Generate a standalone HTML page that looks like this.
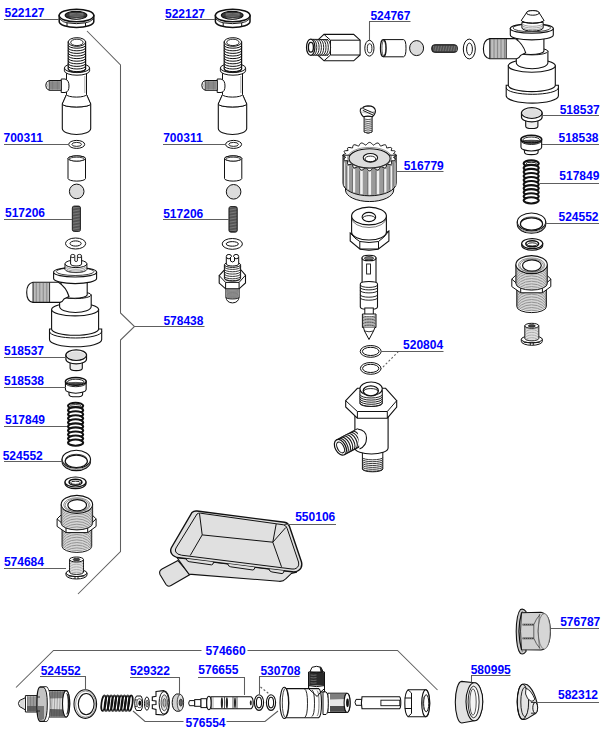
<!DOCTYPE html>
<html><head><meta charset="utf-8"><style>html,body{margin:0;padding:0;background:#fff;}svg{display:block;}text{font-family:"Liberation Sans",sans-serif;font-weight:bold;font-size:12px;fill:#0000ff;}</style></head><body>
<svg width="602" height="744" viewBox="0 0 602 744">
<rect width="602" height="744" fill="#fff"/>
<path d="M59.2,15.5 L59.2,21.5 A17.3,6 0 0 0 93.8,21.5 L93.8,15.5 Z" fill="#fff" stroke="#111" stroke-width="1.5" />
<ellipse cx="76.5" cy="15.5" rx="17.3" ry="6.3" fill="#fff" stroke="#111" stroke-width="1.5" />
<path d="M67,22.8 L67,27 M85.5,22.8 L85.5,27 M67,22.8 Q76.5,24.5 85.5,22.8" fill="none" stroke="#111" stroke-width="1.0" />
<path d="M59.7,19 Q63.5,22.5 67,22.8 M93.3,19 Q89.5,22.5 85.5,22.8" fill="none" stroke="#111" stroke-width="0.9" />
<ellipse cx="76" cy="15.3" rx="10.8" ry="3.9" fill="#3a3a3a" stroke="#111" stroke-width="1.2" />
<path d="M67.5,17 Q76.5,21 85.5,17 Q76.5,18.3 67.5,17 Z" fill="#fff" stroke="#111" stroke-width="0.6" />
<path d="M69.5,13.2 Q76.5,14.5 83.5,13.2" fill="none" stroke="#9a9a9a" stroke-width="0.6" />
<path d="M69.5,14.5 Q76.5,15.8 83.5,14.5" fill="none" stroke="#9a9a9a" stroke-width="0.6" />
<path d="M69.5,15.8 Q76.5,17.1 83.5,15.8" fill="none" stroke="#9a9a9a" stroke-width="0.6" />
<path d="M215.4,15.5 L215.4,21.5 A17.3,6 0 0 0 250,21.5 L250,15.5 Z" fill="#fff" stroke="#111" stroke-width="1.5" />
<ellipse cx="232.7" cy="15.5" rx="17.3" ry="6.3" fill="#fff" stroke="#111" stroke-width="1.5" />
<path d="M223.2,22.8 L223.2,27 M241.7,22.8 L241.7,27 M223.2,22.8 Q232.7,24.5 241.7,22.8" fill="none" stroke="#111" stroke-width="1.0" />
<path d="M215.9,19 Q219.7,22.5 223.2,22.8 M249.5,19 Q245.7,22.5 241.7,22.8" fill="none" stroke="#111" stroke-width="0.9" />
<ellipse cx="232.2" cy="15.3" rx="10.8" ry="3.9" fill="#3a3a3a" stroke="#111" stroke-width="1.2" />
<path d="M223.7,17 Q232.7,21 241.7,17 Q232.7,18.3 223.7,17 Z" fill="#fff" stroke="#111" stroke-width="0.6" />
<path d="M225.7,13.2 Q232.7,14.5 239.7,13.2" fill="none" stroke="#9a9a9a" stroke-width="0.6" />
<path d="M225.7,14.5 Q232.7,15.8 239.7,14.5" fill="none" stroke="#9a9a9a" stroke-width="0.6" />
<path d="M225.7,15.8 Q232.7,17.1 239.7,15.8" fill="none" stroke="#9a9a9a" stroke-width="0.6" />
<path d="M62.3,104 L62.3,128.5 A14.2,6 0 0 0 90.7,128.5 L90.7,104 Z" fill="#fff" stroke="#111" stroke-width="1.1" />
<path d="M62.3,104 A14.2,3 0 0 0 90.7,104" fill="none" stroke="#111" stroke-width="1.0" />
<path d="M66.5,94.5 L62.3,104 M86.5,94.5 L90.7,104" fill="none" stroke="#111" stroke-width="1.0" />
<path d="M66.5,94.5 L62.3,104 A14.2,3 0 0 0 90.7,104 L86.5,94.5 Z" fill="#fff" stroke="#111" stroke-width="1.0" />
<path d="M66.5,72 L66.5,94.5 A10,2.6 0 0 0 86.5,94.5 L86.5,72 Z" fill="#fff" stroke="#111" stroke-width="1.0" />
<line x1="84.8" y1="76" x2="84.8" y2="93" stroke="#555" stroke-width="0.5"/>
<path d="M64.4,68 L64.4,70.8 A12.6,4.4 0 0 0 89.6,70.8 L89.6,68 Z" fill="#fff" stroke="#111" stroke-width="1.0" />
<ellipse cx="77" cy="68" rx="12.6" ry="4.6" fill="#fff" stroke="#111" stroke-width="1.0" />
<path d="M68.2,42 L68.2,69 A8.7,3.2 0 0 0 85.6,69 L85.6,42 Z" fill="#fff" stroke="#111" stroke-width="1.2" />
<path d="M68.2,45.2 A8.7,3 0 0 0 85.6,45.2" fill="none" stroke="#111" stroke-width="1.0" />
<path d="M68.2,47.8 A8.7,3 0 0 0 85.6,47.8" fill="none" stroke="#111" stroke-width="1.0" />
<path d="M68.2,50.4 A8.7,3 0 0 0 85.6,50.4" fill="none" stroke="#111" stroke-width="1.0" />
<path d="M68.2,53 A8.7,3 0 0 0 85.6,53" fill="none" stroke="#111" stroke-width="1.0" />
<path d="M68.2,55.6 A8.7,3 0 0 0 85.6,55.6" fill="none" stroke="#111" stroke-width="1.0" />
<path d="M68.2,58.2 A8.7,3 0 0 0 85.6,58.2" fill="none" stroke="#111" stroke-width="1.0" />
<path d="M68.2,60.8 A8.7,3 0 0 0 85.6,60.8" fill="none" stroke="#111" stroke-width="1.0" />
<path d="M68.2,63.4 A8.7,3 0 0 0 85.6,63.4" fill="none" stroke="#111" stroke-width="1.0" />
<path d="M68.2,66 A8.7,3 0 0 0 85.6,66" fill="none" stroke="#111" stroke-width="1.0" />
<path d="M68.2,68.6 A8.7,3 0 0 0 85.6,68.6" fill="none" stroke="#111" stroke-width="1.0" />
<ellipse cx="76.9" cy="42" rx="8.7" ry="4.3" fill="#fff" stroke="#111" stroke-width="1.0" />
<ellipse cx="76.9" cy="42.4" rx="6.2" ry="3.2" fill="#fff" stroke="#111" stroke-width="0.9" />
<path d="M61.2,79 L65,79 Q69,80 69,86 Q69,92 65,92.5 L61.2,92.5 Z" fill="#fff" stroke="#111" stroke-width="1.0" />
<path d="M61.2,80.5 L49.2,80.5 L46.5,82.3 Q45,85.3 46.5,88.4 L49.2,90.3 L61.2,90.3 Z" fill="#fff" stroke="#111" stroke-width="1.0" />
<rect x="49.7" y="81.2" width="10.8" height="8.4" rx="0" fill="#a8a8a8" stroke="#111" stroke-width="0"/>
<line x1="50" y1="81" x2="50" y2="89.8" stroke="#555" stroke-width="0.5"/>
<line x1="51.25" y1="81" x2="51.25" y2="89.8" stroke="#555" stroke-width="0.5"/>
<line x1="52.5" y1="81" x2="52.5" y2="89.8" stroke="#555" stroke-width="0.5"/>
<line x1="53.75" y1="81" x2="53.75" y2="89.8" stroke="#555" stroke-width="0.5"/>
<line x1="55" y1="81" x2="55" y2="89.8" stroke="#555" stroke-width="0.5"/>
<line x1="56.25" y1="81" x2="56.25" y2="89.8" stroke="#555" stroke-width="0.5"/>
<line x1="57.5" y1="81" x2="57.5" y2="89.8" stroke="#555" stroke-width="0.5"/>
<line x1="58.75" y1="81" x2="58.75" y2="89.8" stroke="#555" stroke-width="0.5"/>
<line x1="60" y1="81" x2="60" y2="89.8" stroke="#555" stroke-width="0.5"/>
<line x1="49.2" y1="80.5" x2="49.2" y2="90.3" stroke="#111" stroke-width="0.8"/>
<path d="M46.5,82.3 Q48,85.3 46.5,88.4" fill="none" stroke="#555" stroke-width="0.6" />
<path d="M218.3,104 L218.3,128.5 A14.2,6 0 0 0 246.7,128.5 L246.7,104 Z" fill="#fff" stroke="#111" stroke-width="1.1" />
<path d="M218.3,104 A14.2,3 0 0 0 246.7,104" fill="none" stroke="#111" stroke-width="1.0" />
<path d="M222.5,94.5 L218.3,104 M242.5,94.5 L246.7,104" fill="none" stroke="#111" stroke-width="1.0" />
<path d="M222.5,94.5 L218.3,104 A14.2,3 0 0 0 246.7,104 L242.5,94.5 Z" fill="#fff" stroke="#111" stroke-width="1.0" />
<path d="M222.5,72 L222.5,94.5 A10,2.6 0 0 0 242.5,94.5 L242.5,72 Z" fill="#fff" stroke="#111" stroke-width="1.0" />
<line x1="240.8" y1="76" x2="240.8" y2="93" stroke="#555" stroke-width="0.5"/>
<path d="M220.4,68 L220.4,70.8 A12.6,4.4 0 0 0 245.6,70.8 L245.6,68 Z" fill="#fff" stroke="#111" stroke-width="1.0" />
<ellipse cx="233" cy="68" rx="12.6" ry="4.6" fill="#fff" stroke="#111" stroke-width="1.0" />
<path d="M224.2,42 L224.2,69 A8.7,3.2 0 0 0 241.6,69 L241.6,42 Z" fill="#fff" stroke="#111" stroke-width="1.2" />
<path d="M224.2,45.2 A8.7,3 0 0 0 241.6,45.2" fill="none" stroke="#111" stroke-width="1.0" />
<path d="M224.2,47.8 A8.7,3 0 0 0 241.6,47.8" fill="none" stroke="#111" stroke-width="1.0" />
<path d="M224.2,50.4 A8.7,3 0 0 0 241.6,50.4" fill="none" stroke="#111" stroke-width="1.0" />
<path d="M224.2,53 A8.7,3 0 0 0 241.6,53" fill="none" stroke="#111" stroke-width="1.0" />
<path d="M224.2,55.6 A8.7,3 0 0 0 241.6,55.6" fill="none" stroke="#111" stroke-width="1.0" />
<path d="M224.2,58.2 A8.7,3 0 0 0 241.6,58.2" fill="none" stroke="#111" stroke-width="1.0" />
<path d="M224.2,60.8 A8.7,3 0 0 0 241.6,60.8" fill="none" stroke="#111" stroke-width="1.0" />
<path d="M224.2,63.4 A8.7,3 0 0 0 241.6,63.4" fill="none" stroke="#111" stroke-width="1.0" />
<path d="M224.2,66 A8.7,3 0 0 0 241.6,66" fill="none" stroke="#111" stroke-width="1.0" />
<path d="M224.2,68.6 A8.7,3 0 0 0 241.6,68.6" fill="none" stroke="#111" stroke-width="1.0" />
<ellipse cx="232.9" cy="42" rx="8.7" ry="4.3" fill="#fff" stroke="#111" stroke-width="1.0" />
<ellipse cx="232.9" cy="42.4" rx="6.2" ry="3.2" fill="#fff" stroke="#111" stroke-width="0.9" />
<path d="M217.2,79 L221,79 Q225,80 225,86 Q225,92 221,92.5 L217.2,92.5 Z" fill="#fff" stroke="#111" stroke-width="1.0" />
<path d="M217.2,80.5 L205.2,80.5 L202.5,82.3 Q201,85.3 202.5,88.4 L205.2,90.3 L217.2,90.3 Z" fill="#fff" stroke="#111" stroke-width="1.0" />
<rect x="205.7" y="81.2" width="10.8" height="8.4" rx="0" fill="#a8a8a8" stroke="#111" stroke-width="0"/>
<line x1="206" y1="81" x2="206" y2="89.8" stroke="#555" stroke-width="0.5"/>
<line x1="207.25" y1="81" x2="207.25" y2="89.8" stroke="#555" stroke-width="0.5"/>
<line x1="208.5" y1="81" x2="208.5" y2="89.8" stroke="#555" stroke-width="0.5"/>
<line x1="209.75" y1="81" x2="209.75" y2="89.8" stroke="#555" stroke-width="0.5"/>
<line x1="211" y1="81" x2="211" y2="89.8" stroke="#555" stroke-width="0.5"/>
<line x1="212.25" y1="81" x2="212.25" y2="89.8" stroke="#555" stroke-width="0.5"/>
<line x1="213.5" y1="81" x2="213.5" y2="89.8" stroke="#555" stroke-width="0.5"/>
<line x1="214.75" y1="81" x2="214.75" y2="89.8" stroke="#555" stroke-width="0.5"/>
<line x1="216" y1="81" x2="216" y2="89.8" stroke="#555" stroke-width="0.5"/>
<line x1="205.2" y1="80.5" x2="205.2" y2="90.3" stroke="#111" stroke-width="0.8"/>
<path d="M202.5,82.3 Q204,85.3 202.5,88.4" fill="none" stroke="#555" stroke-width="0.6" />
<ellipse cx="76.7" cy="144.4" rx="8" ry="4" fill="#fff" stroke="#111" stroke-width="1.0" />
<ellipse cx="76.7" cy="144.4" rx="4.8" ry="2" fill="#fff" stroke="#111" stroke-width="0.9" />
<ellipse cx="233.6" cy="144.4" rx="8" ry="4" fill="#fff" stroke="#111" stroke-width="1.0" />
<ellipse cx="233.6" cy="144.4" rx="4.8" ry="2" fill="#fff" stroke="#111" stroke-width="0.9" />
<path d="M68,158.5 L68,178.5 A8.75,2.6 0 0 0 85.5,178.5 L85.5,158.5 A8.75,2.6 0 0 0 68,158.5 Z" fill="#fff" stroke="#111" stroke-width="1.0" />
<ellipse cx="76.75" cy="158.5" rx="8.75" ry="2.6" fill="#fff" stroke="#111" stroke-width="1.0" />
<ellipse cx="76.75" cy="159.1" rx="7.55" ry="1.9" fill="#fff" stroke="#111" stroke-width="0.8" />
<path d="M224.5,158.5 L224.5,178.5 A8.65,2.6 0 0 0 241.8,178.5 L241.8,158.5 A8.65,2.6 0 0 0 224.5,158.5 Z" fill="#fff" stroke="#111" stroke-width="1.0" />
<ellipse cx="233.15" cy="158.5" rx="8.65" ry="2.6" fill="#fff" stroke="#111" stroke-width="1.0" />
<ellipse cx="233.15" cy="159.1" rx="7.45" ry="1.9" fill="#fff" stroke="#111" stroke-width="0.8" />
<ellipse cx="76.7" cy="191.4" rx="7.3" ry="7.3" fill="#dcdcdc" stroke="#111" stroke-width="1.0" />
<ellipse cx="233.6" cy="191.8" rx="7.3" ry="7.3" fill="#dcdcdc" stroke="#111" stroke-width="1.0" />
<rect x="72.3" y="206" width="8.2" height="25.5" rx="2" fill="#333" stroke="#111" stroke-width="0.8"/>
<line x1="73" y1="207.2" x2="79.8" y2="207.8" stroke="#aaa" stroke-width="0.6"/>
<line x1="73" y1="208.7" x2="79.8" y2="209.3" stroke="#aaa" stroke-width="0.6"/>
<line x1="73" y1="210.2" x2="79.8" y2="210.8" stroke="#aaa" stroke-width="0.6"/>
<line x1="73" y1="211.7" x2="79.8" y2="212.3" stroke="#aaa" stroke-width="0.6"/>
<line x1="73" y1="213.2" x2="79.8" y2="213.8" stroke="#aaa" stroke-width="0.6"/>
<line x1="73" y1="214.7" x2="79.8" y2="215.3" stroke="#aaa" stroke-width="0.6"/>
<line x1="73" y1="216.2" x2="79.8" y2="216.8" stroke="#aaa" stroke-width="0.6"/>
<line x1="73" y1="217.7" x2="79.8" y2="218.3" stroke="#aaa" stroke-width="0.6"/>
<line x1="73" y1="219.2" x2="79.8" y2="219.8" stroke="#aaa" stroke-width="0.6"/>
<line x1="73" y1="220.7" x2="79.8" y2="221.3" stroke="#aaa" stroke-width="0.6"/>
<line x1="73" y1="222.2" x2="79.8" y2="222.8" stroke="#aaa" stroke-width="0.6"/>
<line x1="73" y1="223.7" x2="79.8" y2="224.3" stroke="#aaa" stroke-width="0.6"/>
<line x1="73" y1="225.2" x2="79.8" y2="225.8" stroke="#aaa" stroke-width="0.6"/>
<line x1="73" y1="226.7" x2="79.8" y2="227.3" stroke="#aaa" stroke-width="0.6"/>
<line x1="73" y1="228.2" x2="79.8" y2="228.8" stroke="#aaa" stroke-width="0.6"/>
<line x1="73" y1="229.7" x2="79.8" y2="230.3" stroke="#aaa" stroke-width="0.6"/>
<rect x="228.9" y="206.5" width="8.4" height="25.7" rx="2" fill="#333" stroke="#111" stroke-width="0.8"/>
<line x1="229.6" y1="207.7" x2="236.6" y2="208.3" stroke="#aaa" stroke-width="0.6"/>
<line x1="229.6" y1="209.2" x2="236.6" y2="209.8" stroke="#aaa" stroke-width="0.6"/>
<line x1="229.6" y1="210.7" x2="236.6" y2="211.3" stroke="#aaa" stroke-width="0.6"/>
<line x1="229.6" y1="212.2" x2="236.6" y2="212.8" stroke="#aaa" stroke-width="0.6"/>
<line x1="229.6" y1="213.7" x2="236.6" y2="214.3" stroke="#aaa" stroke-width="0.6"/>
<line x1="229.6" y1="215.2" x2="236.6" y2="215.8" stroke="#aaa" stroke-width="0.6"/>
<line x1="229.6" y1="216.7" x2="236.6" y2="217.3" stroke="#aaa" stroke-width="0.6"/>
<line x1="229.6" y1="218.2" x2="236.6" y2="218.8" stroke="#aaa" stroke-width="0.6"/>
<line x1="229.6" y1="219.7" x2="236.6" y2="220.3" stroke="#aaa" stroke-width="0.6"/>
<line x1="229.6" y1="221.2" x2="236.6" y2="221.8" stroke="#aaa" stroke-width="0.6"/>
<line x1="229.6" y1="222.7" x2="236.6" y2="223.3" stroke="#aaa" stroke-width="0.6"/>
<line x1="229.6" y1="224.2" x2="236.6" y2="224.8" stroke="#aaa" stroke-width="0.6"/>
<line x1="229.6" y1="225.7" x2="236.6" y2="226.3" stroke="#aaa" stroke-width="0.6"/>
<line x1="229.6" y1="227.2" x2="236.6" y2="227.8" stroke="#aaa" stroke-width="0.6"/>
<line x1="229.6" y1="228.7" x2="236.6" y2="229.3" stroke="#aaa" stroke-width="0.6"/>
<line x1="229.6" y1="230.2" x2="236.6" y2="230.8" stroke="#aaa" stroke-width="0.6"/>
<ellipse cx="75.6" cy="243.5" rx="10.1" ry="5.5" fill="#fff" stroke="#111" stroke-width="1.0" />
<ellipse cx="75.6" cy="243.5" rx="5.6" ry="2.6" fill="#fff" stroke="#111" stroke-width="1.0" />
<ellipse cx="232.3" cy="243.9" rx="10.1" ry="5.4" fill="#fff" stroke="#111" stroke-width="1.0" />
<ellipse cx="232.3" cy="243.9" rx="6.1" ry="2.3" fill="#fff" stroke="#111" stroke-width="1.0" />
<path d="M49.5,329 L49.5,339.5 A26.1,7.3 0 0 0 101.7,339.5 L101.7,329 Z" fill="#fff" stroke="#111" stroke-width="1.1" />
<path d="M49.5,331.5 A26.1,6.5 0 0 0 101.7,331.5" fill="none" stroke="#111" stroke-width="1.0" />
<path d="M51.6,309.5 L51.6,329 A23.5,6.3 0 0 0 98.6,329 L98.6,309.5 Z" fill="#fff" stroke="#111" stroke-width="1.1" />
<ellipse cx="75.1" cy="309.5" rx="23.5" ry="6.4" fill="#fff" stroke="#111" stroke-width="1.1" />
<path d="M59.6,295 L59.6,306.5 A15.8,6 0 0 0 91.2,306.5 L91.2,295 Z" fill="#fff" stroke="#111" stroke-width="1.1" />
<ellipse cx="75.4" cy="295" rx="15.8" ry="3.6" fill="#fff" stroke="#111" stroke-width="1.0" />
<path d="M61,280 L61,294.8 A13.1,3.4 0 0 0 87.2,294.8 L87.2,280 Z" fill="#fff" stroke="#111" stroke-width="1.1" />
<path d="M58.5,282.3 L33,282.3 Q26.7,283.5 26.7,292.4 Q26.7,301.3 33,302.4 L60,302.4 Q62.5,302 64,299 L69,296.5 Q66,287 58.5,282.3 Z" fill="#fff" stroke="#111" stroke-width="1.1" />
<line x1="33.8" y1="282.8" x2="33.8" y2="302" stroke="#3a3a3a" stroke-width="0.6"/>
<line x1="35.2" y1="282.8" x2="35.2" y2="302" stroke="#3a3a3a" stroke-width="0.6"/>
<line x1="36.6" y1="282.8" x2="36.6" y2="302" stroke="#3a3a3a" stroke-width="0.6"/>
<line x1="38" y1="282.8" x2="38" y2="302" stroke="#3a3a3a" stroke-width="0.6"/>
<line x1="39.4" y1="282.8" x2="39.4" y2="302" stroke="#3a3a3a" stroke-width="0.6"/>
<line x1="40.8" y1="282.8" x2="40.8" y2="302" stroke="#3a3a3a" stroke-width="0.6"/>
<line x1="42.2" y1="282.8" x2="42.2" y2="302" stroke="#3a3a3a" stroke-width="0.6"/>
<line x1="43.6" y1="282.8" x2="43.6" y2="302" stroke="#3a3a3a" stroke-width="0.6"/>
<line x1="45" y1="282.8" x2="45" y2="302" stroke="#3a3a3a" stroke-width="0.6"/>
<line x1="46.4" y1="282.8" x2="46.4" y2="302" stroke="#3a3a3a" stroke-width="0.6"/>
<line x1="47.8" y1="282.8" x2="47.8" y2="302" stroke="#3a3a3a" stroke-width="0.6"/>
<line x1="49.2" y1="282.8" x2="49.2" y2="302" stroke="#3a3a3a" stroke-width="0.6"/>
<line x1="33" y1="282.3" x2="33" y2="302.4" stroke="#111" stroke-width="0.9"/>
<line x1="49.6" y1="282.5" x2="49.6" y2="302.2" stroke="#111" stroke-width="0.8"/>
<path d="M53.6,272.2 L53.6,278.6 A21.5,5 0 0 0 96.6,278.6 L96.6,272.2 Z" fill="#fff" stroke="#111" stroke-width="1.1" />
<ellipse cx="75.1" cy="272.2" rx="21.5" ry="4.8" fill="#fff" stroke="#111" stroke-width="1.1" />
<ellipse cx="75.1" cy="271.6" rx="18.8" ry="3.9" fill="none" stroke="#111" stroke-width="0.8" />
<path d="M65,263.8 L65,269.5 A11,3.3 0 0 0 86.9,269.5 L86.9,263.8 Z" fill="#fff" stroke="#111" stroke-width="1.0" />
<path d="M66,266.5 A9.95,2.8 0 0 0 85.9,266.5" fill="none" stroke="#666" stroke-width="0.6" />
<path d="M66,268.2 A9.95,2.8 0 0 0 85.9,268.2" fill="none" stroke="#666" stroke-width="0.6" />
<path d="M66,269.9 A9.95,2.8 0 0 0 85.9,269.9" fill="none" stroke="#666" stroke-width="0.6" />
<ellipse cx="75.95" cy="263.8" rx="11" ry="3.8" fill="#fff" stroke="#111" stroke-width="1.0" />
<path d="M70.6,256.5 L70.6,264 A5.5,2 0 0 0 81.6,264 L81.6,256.5" fill="#fff" stroke="#111" stroke-width="1.0" />
<ellipse cx="72.8" cy="256" rx="2.2" ry="1.6" fill="#fff" stroke="#111" stroke-width="0.9" />
<ellipse cx="79.4" cy="256" rx="2.2" ry="1.6" fill="#fff" stroke="#111" stroke-width="0.9" />
<path d="M74.8,256.5 L74.8,261 Q76.1,262.3 77.4,261 L77.4,256.5" fill="#fff" stroke="#111" stroke-width="0.9" />
<path d="M506.2,85.3 L506.2,95.8 A26.1,7.3 0 0 0 558.4,95.8 L558.4,85.3 Z" fill="#fff" stroke="#111" stroke-width="1.1" />
<path d="M506.2,87.8 A26.1,6.5 0 0 0 558.4,87.8" fill="none" stroke="#111" stroke-width="1.0" />
<path d="M508.3,65.8 L508.3,85.3 A23.5,6.3 0 0 0 555.3,85.3 L555.3,65.8 Z" fill="#fff" stroke="#111" stroke-width="1.1" />
<ellipse cx="531.8" cy="65.8" rx="23.5" ry="6.4" fill="#fff" stroke="#111" stroke-width="1.1" />
<path d="M516.3,51.3 L516.3,62.8 A15.8,6 0 0 0 547.9,62.8 L547.9,51.3 Z" fill="#fff" stroke="#111" stroke-width="1.1" />
<ellipse cx="532.1" cy="51.3" rx="15.8" ry="3.6" fill="#fff" stroke="#111" stroke-width="1.0" />
<path d="M517.7,36.3 L517.7,51.1 A13.1,3.4 0 0 0 543.9,51.1 L543.9,36.3 Z" fill="#fff" stroke="#111" stroke-width="1.1" />
<path d="M515.2,38.6 L489.7,38.6 Q483.4,39.8 483.4,48.7 Q483.4,57.6 489.7,58.7 L516.7,58.7 Q519.2,58.3 520.7,55.3 L525.7,52.8 Q522.7,43.3 515.2,38.6 Z" fill="#fff" stroke="#111" stroke-width="1.1" />
<line x1="490.5" y1="39.1" x2="490.5" y2="58.3" stroke="#3a3a3a" stroke-width="0.6"/>
<line x1="491.9" y1="39.1" x2="491.9" y2="58.3" stroke="#3a3a3a" stroke-width="0.6"/>
<line x1="493.3" y1="39.1" x2="493.3" y2="58.3" stroke="#3a3a3a" stroke-width="0.6"/>
<line x1="494.7" y1="39.1" x2="494.7" y2="58.3" stroke="#3a3a3a" stroke-width="0.6"/>
<line x1="496.1" y1="39.1" x2="496.1" y2="58.3" stroke="#3a3a3a" stroke-width="0.6"/>
<line x1="497.5" y1="39.1" x2="497.5" y2="58.3" stroke="#3a3a3a" stroke-width="0.6"/>
<line x1="498.9" y1="39.1" x2="498.9" y2="58.3" stroke="#3a3a3a" stroke-width="0.6"/>
<line x1="500.3" y1="39.1" x2="500.3" y2="58.3" stroke="#3a3a3a" stroke-width="0.6"/>
<line x1="501.7" y1="39.1" x2="501.7" y2="58.3" stroke="#3a3a3a" stroke-width="0.6"/>
<line x1="503.1" y1="39.1" x2="503.1" y2="58.3" stroke="#3a3a3a" stroke-width="0.6"/>
<line x1="504.5" y1="39.1" x2="504.5" y2="58.3" stroke="#3a3a3a" stroke-width="0.6"/>
<line x1="505.9" y1="39.1" x2="505.9" y2="58.3" stroke="#3a3a3a" stroke-width="0.6"/>
<line x1="489.7" y1="38.6" x2="489.7" y2="58.7" stroke="#111" stroke-width="0.9"/>
<line x1="506.3" y1="38.8" x2="506.3" y2="58.5" stroke="#111" stroke-width="0.8"/>
<path d="M510.3,28.5 L510.3,34.9 A21.5,5 0 0 0 553.3,34.9 L553.3,28.5 Z" fill="#fff" stroke="#111" stroke-width="1.1" />
<ellipse cx="531.8" cy="28.5" rx="21.5" ry="4.8" fill="#fff" stroke="#111" stroke-width="1.1" />
<ellipse cx="531.8" cy="27.9" rx="18.8" ry="3.9" fill="none" stroke="#111" stroke-width="0.8" />
<path d="M521.9,22.3 L521.9,27.8 A10.65,3.3 0 0 0 543.2,27.8 L543.2,22.3 Z" fill="#fff" stroke="#111" stroke-width="1.0" />
<path d="M521.9,23.3 A10.65,3 0 0 0 543.2,23.3" fill="none" stroke="#666" stroke-width="0.6" />
<path d="M521.9,25 A10.65,3 0 0 0 543.2,25" fill="none" stroke="#666" stroke-width="0.6" />
<path d="M521.9,26.7 A10.65,3 0 0 0 543.2,26.7" fill="none" stroke="#666" stroke-width="0.6" />
<path d="M521.4,20.3 L526.4,12.9 A6.4,2.35 0 0 1 539.2,12.9 L543.9,20.3 A11.25,2.8 0 0 1 521.4,20.3 Z" fill="#fff" stroke="#111" stroke-width="1.0" />
<path d="M521.4,20.3 A11.25,3 0 0 0 543.9,20.3" fill="none" stroke="#111" stroke-width="1.0" />
<ellipse cx="532.8" cy="12.9" rx="6.4" ry="2.3" fill="#fff" stroke="#111" stroke-width="1.0" />
<path d="M70.1,362.1 L70.1,368.3 A6.1,2.3 0 0 0 82.3,368.3 L82.3,362.1 A6.1,2.3 0 0 0 70.1,362.1 Z" fill="#eee" stroke="#111" stroke-width="1.1" />
<path d="M65.9,355.1 L65.9,359.3 A10.3,4.6 0 0 0 86.5,359.3 L86.5,355.1 Z" fill="#fff" stroke="#111" stroke-width="1.2" />
<ellipse cx="76.2" cy="355.1" rx="10.3" ry="5.3" fill="#fff" stroke="#111" stroke-width="1.2" />
<ellipse cx="76.2" cy="355.4" rx="9" ry="4.2" fill="#dedede" stroke="#111" stroke-width="0" />
<path d="M525.7,120 L525.7,126.2 A6.1,2.3 0 0 0 537.9,126.2 L537.9,120 A6.1,2.3 0 0 0 525.7,120 Z" fill="#eee" stroke="#111" stroke-width="1.1" />
<path d="M521.5,113 L521.5,117.2 A10.3,4.6 0 0 0 542.1,117.2 L542.1,113 Z" fill="#fff" stroke="#111" stroke-width="1.2" />
<ellipse cx="531.8" cy="113" rx="10.3" ry="5.3" fill="#fff" stroke="#111" stroke-width="1.2" />
<ellipse cx="531.8" cy="113.3" rx="9" ry="4.2" fill="#dedede" stroke="#111" stroke-width="0" />
<path d="M69,389.4 L69,394.4 A6.8,2.4 0 0 0 82.6,394.4 L82.6,389.4 A6.8,2.4 0 0 0 69,389.4 Z" fill="#fff" stroke="#111" stroke-width="1.1" />
<path d="M65.45,381.4 L65.45,389.4 A10.35,3.8 0 0 0 86.15,389.4 L86.15,381.4 Z" fill="#fff" stroke="#111" stroke-width="1.1" />
<ellipse cx="75.8" cy="381.4" rx="10.35" ry="3.9" fill="#fff" stroke="#111" stroke-width="1.5" />
<ellipse cx="75.8" cy="382" rx="8.3" ry="2.8" fill="#fff" stroke="#111" stroke-width="0.9" />
<path d="M68.8,382.8 Q75.8,386 82.8,382.8 Q75.8,382 68.8,382.8 Z" fill="#555" stroke="#111" stroke-width="0.6" />
<path d="M65.45,382.9 A10.35,3.8 0 0 0 86.15,382.9" fill="none" stroke="#111" stroke-width="0.9" />
<path d="M524.5,147.2 L524.5,152.2 A6.8,2.4 0 0 0 538.1,152.2 L538.1,147.2 A6.8,2.4 0 0 0 524.5,147.2 Z" fill="#fff" stroke="#111" stroke-width="1.1" />
<path d="M520.95,139.2 L520.95,147.2 A10.35,3.8 0 0 0 541.65,147.2 L541.65,139.2 Z" fill="#fff" stroke="#111" stroke-width="1.1" />
<ellipse cx="531.3" cy="139.2" rx="10.35" ry="3.9" fill="#fff" stroke="#111" stroke-width="1.5" />
<ellipse cx="531.3" cy="139.8" rx="8.3" ry="2.8" fill="#fff" stroke="#111" stroke-width="0.9" />
<path d="M524.3,140.6 Q531.3,143.8 538.3,140.6 Q531.3,139.8 524.3,140.6 Z" fill="#555" stroke="#111" stroke-width="0.6" />
<path d="M520.95,140.7 A10.35,3.8 0 0 0 541.65,140.7" fill="none" stroke="#111" stroke-width="0.9" />
<ellipse cx="75.6" cy="405.8" rx="7.6" ry="3.1" fill="#fff" stroke="#111" stroke-width="2.1" />
<ellipse cx="75.6" cy="410.25" rx="7.6" ry="3.1" fill="#fff" stroke="#111" stroke-width="2.1" />
<ellipse cx="75.6" cy="414.3" rx="7.6" ry="3.1" fill="#fff" stroke="#111" stroke-width="2.1" />
<ellipse cx="75.6" cy="418.35" rx="7.6" ry="3.1" fill="#fff" stroke="#111" stroke-width="2.1" />
<ellipse cx="75.6" cy="422.4" rx="7.6" ry="3.1" fill="#fff" stroke="#111" stroke-width="2.1" />
<ellipse cx="75.6" cy="426.45" rx="7.6" ry="3.1" fill="#fff" stroke="#111" stroke-width="2.1" />
<ellipse cx="75.6" cy="430.5" rx="7.6" ry="3.1" fill="#fff" stroke="#111" stroke-width="2.1" />
<ellipse cx="75.6" cy="434.55" rx="7.6" ry="3.1" fill="#fff" stroke="#111" stroke-width="2.1" />
<ellipse cx="75.6" cy="438.6" rx="7.6" ry="3.1" fill="#fff" stroke="#111" stroke-width="2.1" />
<ellipse cx="75.6" cy="442.65" rx="7.6" ry="3.1" fill="#fff" stroke="#111" stroke-width="2.1" />
<ellipse cx="75.6" cy="405.9" rx="5.2" ry="1.3" fill="none" stroke="#111" stroke-width="0.9" />
<ellipse cx="531.2" cy="163.5" rx="7.6" ry="3.1" fill="#fff" stroke="#111" stroke-width="2.1" />
<ellipse cx="531.2" cy="167.95" rx="7.6" ry="3.1" fill="#fff" stroke="#111" stroke-width="2.1" />
<ellipse cx="531.2" cy="172" rx="7.6" ry="3.1" fill="#fff" stroke="#111" stroke-width="2.1" />
<ellipse cx="531.2" cy="176.05" rx="7.6" ry="3.1" fill="#fff" stroke="#111" stroke-width="2.1" />
<ellipse cx="531.2" cy="180.1" rx="7.6" ry="3.1" fill="#fff" stroke="#111" stroke-width="2.1" />
<ellipse cx="531.2" cy="184.15" rx="7.6" ry="3.1" fill="#fff" stroke="#111" stroke-width="2.1" />
<ellipse cx="531.2" cy="188.2" rx="7.6" ry="3.1" fill="#fff" stroke="#111" stroke-width="2.1" />
<ellipse cx="531.2" cy="192.25" rx="7.6" ry="3.1" fill="#fff" stroke="#111" stroke-width="2.1" />
<ellipse cx="531.2" cy="196.3" rx="7.6" ry="3.1" fill="#fff" stroke="#111" stroke-width="2.1" />
<ellipse cx="531.2" cy="200.35" rx="7.6" ry="3.1" fill="#fff" stroke="#111" stroke-width="2.1" />
<ellipse cx="531.2" cy="163.6" rx="5.2" ry="1.3" fill="none" stroke="#111" stroke-width="0.9" />
<path d="M62.1,459.3 L62.1,461.6 A14.2,9 0 0 0 90.5,461.6 L90.5,459.3 Z" fill="#fff" stroke="#111" stroke-width="1.1" />
<ellipse cx="76.3" cy="459.3" rx="14.2" ry="9" fill="#fff" stroke="#111" stroke-width="1.1" />
<path d="M62.3,460.6 A14,9 0 0 0 90.3,460.6" fill="none" stroke="#555" stroke-width="0.6" />
<ellipse cx="76.3" cy="461.3" rx="11.1" ry="6.2" fill="#fff" stroke="#111" stroke-width="1.2" />
<path d="M65.7,459.3 A10.6,5 0 0 1 86.9,459.3" fill="none" stroke="#111" stroke-width="0.8" />
<path d="M517.3,222 L517.3,224.3 A14.2,9 0 0 0 545.7,224.3 L545.7,222 Z" fill="#fff" stroke="#111" stroke-width="1.1" />
<ellipse cx="531.5" cy="222" rx="14.2" ry="9" fill="#fff" stroke="#111" stroke-width="1.1" />
<path d="M517.5,223.3 A14,9 0 0 0 545.5,223.3" fill="none" stroke="#555" stroke-width="0.6" />
<ellipse cx="531.5" cy="224" rx="11.1" ry="6.2" fill="#fff" stroke="#111" stroke-width="1.2" />
<path d="M520.9,222 A10.6,5 0 0 1 542.1,222" fill="none" stroke="#111" stroke-width="0.8" />
<path d="M65,482 L65,483.6 A10.5,5 0 0 0 86,483.6 L86,482 Z" fill="#fff" stroke="#111" stroke-width="1.1" />
<ellipse cx="75.5" cy="482" rx="10.5" ry="5" fill="#fff" stroke="#111" stroke-width="1.1" />
<ellipse cx="75.5" cy="482.2" rx="6.4" ry="3" fill="#fff" stroke="#111" stroke-width="1.6" />
<ellipse cx="75.5" cy="482.8" rx="4.8" ry="1.6" fill="#fff" stroke="#111" stroke-width="0.9" />
<path d="M521.7,243.6 L521.7,245.2 A10.5,5 0 0 0 542.7,245.2 L542.7,243.6 Z" fill="#fff" stroke="#111" stroke-width="1.1" />
<ellipse cx="532.2" cy="243.6" rx="10.5" ry="5" fill="#fff" stroke="#111" stroke-width="1.1" />
<ellipse cx="532.2" cy="243.8" rx="6.4" ry="3" fill="#fff" stroke="#111" stroke-width="1.6" />
<ellipse cx="532.2" cy="244.4" rx="4.8" ry="1.6" fill="#fff" stroke="#111" stroke-width="0.9" />
<path d="M62.1,526.4 L62.1,546.4 A14.8,6 0 0 0 91.7,546.4 L91.7,526.4 Z" fill="#fff" stroke="#111" stroke-width="1.0" />
<path d="M62.1,526.9 A14.8,6 0 0 0 91.7,526.9" fill="none" stroke="#4a4a4a" stroke-width="0.6" />
<path d="M62.1,528.5 A14.8,6 0 0 0 91.7,528.5" fill="none" stroke="#4a4a4a" stroke-width="0.6" />
<path d="M62.1,530.1 A14.8,6 0 0 0 91.7,530.1" fill="none" stroke="#4a4a4a" stroke-width="0.6" />
<path d="M62.1,531.7 A14.8,6 0 0 0 91.7,531.7" fill="none" stroke="#4a4a4a" stroke-width="0.6" />
<path d="M62.1,533.3 A14.8,6 0 0 0 91.7,533.3" fill="none" stroke="#4a4a4a" stroke-width="0.6" />
<path d="M62.1,534.9 A14.8,6 0 0 0 91.7,534.9" fill="none" stroke="#4a4a4a" stroke-width="0.6" />
<path d="M62.1,536.5 A14.8,6 0 0 0 91.7,536.5" fill="none" stroke="#4a4a4a" stroke-width="0.6" />
<path d="M62.1,538.1 A14.8,6 0 0 0 91.7,538.1" fill="none" stroke="#4a4a4a" stroke-width="0.6" />
<path d="M62.1,539.7 A14.8,6 0 0 0 91.7,539.7" fill="none" stroke="#4a4a4a" stroke-width="0.6" />
<path d="M62.1,541.3 A14.8,6 0 0 0 91.7,541.3" fill="none" stroke="#4a4a4a" stroke-width="0.6" />
<path d="M62.1,542.9 A14.8,6 0 0 0 91.7,542.9" fill="none" stroke="#4a4a4a" stroke-width="0.6" />
<path d="M62.1,544.5 A14.8,6 0 0 0 91.7,544.5" fill="none" stroke="#4a4a4a" stroke-width="0.6" />
<path d="M57.1,518.9 L57.1,526.4 L66,532.6 L87.7,532.6 L96.1,526.4 L96.1,518.9 L87.7,526.9 L66,526.9 Z" fill="#fff" stroke="#111" stroke-width="1.0" />
<path d="M66,526.9 L66,532.6 M87.7,526.9 L87.7,532.6" fill="none" stroke="#111" stroke-width="1.0" />
<path d="M57.1,518.9 L61.1,514.9 M96.1,518.9 L92.1,514.9" fill="none" stroke="#111" stroke-width="1.0" />
<path d="M61.2,504.4 L61.2,523.4 A15.7,6.5 0 0 0 92.6,523.4 L92.6,504.4 Z" fill="#fff" stroke="#111" stroke-width="1.0" />
<path d="M61.2,505.4 A15.7,6.5 0 0 0 92.6,505.4" fill="none" stroke="#4a4a4a" stroke-width="0.6" />
<path d="M61.2,507 A15.7,6.5 0 0 0 92.6,507" fill="none" stroke="#4a4a4a" stroke-width="0.6" />
<path d="M61.2,508.6 A15.7,6.5 0 0 0 92.6,508.6" fill="none" stroke="#4a4a4a" stroke-width="0.6" />
<path d="M61.2,510.2 A15.7,6.5 0 0 0 92.6,510.2" fill="none" stroke="#4a4a4a" stroke-width="0.6" />
<path d="M61.2,511.8 A15.7,6.5 0 0 0 92.6,511.8" fill="none" stroke="#4a4a4a" stroke-width="0.6" />
<path d="M61.2,513.4 A15.7,6.5 0 0 0 92.6,513.4" fill="none" stroke="#4a4a4a" stroke-width="0.6" />
<path d="M61.2,515 A15.7,6.5 0 0 0 92.6,515" fill="none" stroke="#4a4a4a" stroke-width="0.6" />
<path d="M61.2,516.6 A15.7,6.5 0 0 0 92.6,516.6" fill="none" stroke="#4a4a4a" stroke-width="0.6" />
<path d="M61.2,518.2 A15.7,6.5 0 0 0 92.6,518.2" fill="none" stroke="#4a4a4a" stroke-width="0.6" />
<path d="M61.2,519.8 A15.7,6.5 0 0 0 92.6,519.8" fill="none" stroke="#4a4a4a" stroke-width="0.6" />
<path d="M61.2,521.4 A15.7,6.5 0 0 0 92.6,521.4" fill="none" stroke="#4a4a4a" stroke-width="0.6" />
<path d="M61.2,523 A15.7,6.5 0 0 0 92.6,523" fill="none" stroke="#4a4a4a" stroke-width="0.6" />
<ellipse cx="76.9" cy="504.4" rx="15.7" ry="9" fill="#fff" stroke="#111" stroke-width="1.1" />
<ellipse cx="76.9" cy="504.9" rx="13.2" ry="7.2" fill="none" stroke="#444" stroke-width="0.6" />
<ellipse cx="76.9" cy="505.2" rx="11.8" ry="6.5" fill="none" stroke="#444" stroke-width="0.6" />
<ellipse cx="77.2" cy="505.3" rx="9.4" ry="5.6" fill="#fff" stroke="#111" stroke-width="1.2" />
<path d="M516.8,286.6 L516.8,306.6 A14.8,6 0 0 0 546.4,306.6 L546.4,286.6 Z" fill="#fff" stroke="#111" stroke-width="1.0" />
<path d="M516.8,287.1 A14.8,6 0 0 0 546.4,287.1" fill="none" stroke="#4a4a4a" stroke-width="0.6" />
<path d="M516.8,288.7 A14.8,6 0 0 0 546.4,288.7" fill="none" stroke="#4a4a4a" stroke-width="0.6" />
<path d="M516.8,290.3 A14.8,6 0 0 0 546.4,290.3" fill="none" stroke="#4a4a4a" stroke-width="0.6" />
<path d="M516.8,291.9 A14.8,6 0 0 0 546.4,291.9" fill="none" stroke="#4a4a4a" stroke-width="0.6" />
<path d="M516.8,293.5 A14.8,6 0 0 0 546.4,293.5" fill="none" stroke="#4a4a4a" stroke-width="0.6" />
<path d="M516.8,295.1 A14.8,6 0 0 0 546.4,295.1" fill="none" stroke="#4a4a4a" stroke-width="0.6" />
<path d="M516.8,296.7 A14.8,6 0 0 0 546.4,296.7" fill="none" stroke="#4a4a4a" stroke-width="0.6" />
<path d="M516.8,298.3 A14.8,6 0 0 0 546.4,298.3" fill="none" stroke="#4a4a4a" stroke-width="0.6" />
<path d="M516.8,299.9 A14.8,6 0 0 0 546.4,299.9" fill="none" stroke="#4a4a4a" stroke-width="0.6" />
<path d="M516.8,301.5 A14.8,6 0 0 0 546.4,301.5" fill="none" stroke="#4a4a4a" stroke-width="0.6" />
<path d="M516.8,303.1 A14.8,6 0 0 0 546.4,303.1" fill="none" stroke="#4a4a4a" stroke-width="0.6" />
<path d="M516.8,304.7 A14.8,6 0 0 0 546.4,304.7" fill="none" stroke="#4a4a4a" stroke-width="0.6" />
<path d="M511.8,279.1 L511.8,286.6 L520.7,292.8 L542.4,292.8 L550.8,286.6 L550.8,279.1 L542.4,287.1 L520.7,287.1 Z" fill="#fff" stroke="#111" stroke-width="1.0" />
<path d="M520.7,287.1 L520.7,292.8 M542.4,287.1 L542.4,292.8" fill="none" stroke="#111" stroke-width="1.0" />
<path d="M511.8,279.1 L515.8,275.1 M550.8,279.1 L546.8,275.1" fill="none" stroke="#111" stroke-width="1.0" />
<path d="M515.9,264.6 L515.9,283.6 A15.7,6.5 0 0 0 547.3,283.6 L547.3,264.6 Z" fill="#fff" stroke="#111" stroke-width="1.0" />
<path d="M515.9,265.6 A15.7,6.5 0 0 0 547.3,265.6" fill="none" stroke="#4a4a4a" stroke-width="0.6" />
<path d="M515.9,267.2 A15.7,6.5 0 0 0 547.3,267.2" fill="none" stroke="#4a4a4a" stroke-width="0.6" />
<path d="M515.9,268.8 A15.7,6.5 0 0 0 547.3,268.8" fill="none" stroke="#4a4a4a" stroke-width="0.6" />
<path d="M515.9,270.4 A15.7,6.5 0 0 0 547.3,270.4" fill="none" stroke="#4a4a4a" stroke-width="0.6" />
<path d="M515.9,272 A15.7,6.5 0 0 0 547.3,272" fill="none" stroke="#4a4a4a" stroke-width="0.6" />
<path d="M515.9,273.6 A15.7,6.5 0 0 0 547.3,273.6" fill="none" stroke="#4a4a4a" stroke-width="0.6" />
<path d="M515.9,275.2 A15.7,6.5 0 0 0 547.3,275.2" fill="none" stroke="#4a4a4a" stroke-width="0.6" />
<path d="M515.9,276.8 A15.7,6.5 0 0 0 547.3,276.8" fill="none" stroke="#4a4a4a" stroke-width="0.6" />
<path d="M515.9,278.4 A15.7,6.5 0 0 0 547.3,278.4" fill="none" stroke="#4a4a4a" stroke-width="0.6" />
<path d="M515.9,280 A15.7,6.5 0 0 0 547.3,280" fill="none" stroke="#4a4a4a" stroke-width="0.6" />
<path d="M515.9,281.6 A15.7,6.5 0 0 0 547.3,281.6" fill="none" stroke="#4a4a4a" stroke-width="0.6" />
<path d="M515.9,283.2 A15.7,6.5 0 0 0 547.3,283.2" fill="none" stroke="#4a4a4a" stroke-width="0.6" />
<ellipse cx="531.6" cy="264.6" rx="15.7" ry="9" fill="#fff" stroke="#111" stroke-width="1.1" />
<ellipse cx="531.6" cy="265.1" rx="13.2" ry="7.2" fill="none" stroke="#444" stroke-width="0.6" />
<ellipse cx="531.6" cy="265.4" rx="11.8" ry="6.5" fill="none" stroke="#444" stroke-width="0.6" />
<ellipse cx="531.9" cy="265.5" rx="9.4" ry="5.6" fill="#fff" stroke="#111" stroke-width="1.2" />
<path d="M66,573 L66,575 A10.5,4 0 0 0 87,575 L87,573 Z" fill="#fff" stroke="#111" stroke-width="1.0" />
<ellipse cx="76.5" cy="573" rx="10.5" ry="3.5" fill="#fff" stroke="#111" stroke-width="1.0" />
<path d="M75,576.5 L75,578.8 M78,576.5 L78,578.8 M68.5,576 L75,576.5 L78,576.5 L84.5,576" fill="none" stroke="#111" stroke-width="0.9" />
<path d="M69.5,559.5 L69.5,572 A7,2.5 0 0 0 83.5,572 L83.5,559.5 Z" fill="#fff" stroke="#111" stroke-width="1.0" />
<path d="M69.5,560.8 A7,2.3 0 0 0 83.5,560.8" fill="none" stroke="#666" stroke-width="0.55" />
<path d="M69.5,562.4 A7,2.3 0 0 0 83.5,562.4" fill="none" stroke="#666" stroke-width="0.55" />
<path d="M69.5,564 A7,2.3 0 0 0 83.5,564" fill="none" stroke="#666" stroke-width="0.55" />
<path d="M69.5,565.6 A7,2.3 0 0 0 83.5,565.6" fill="none" stroke="#666" stroke-width="0.55" />
<path d="M69.5,567.2 A7,2.3 0 0 0 83.5,567.2" fill="none" stroke="#666" stroke-width="0.55" />
<path d="M69.5,568.8 A7,2.3 0 0 0 83.5,568.8" fill="none" stroke="#666" stroke-width="0.55" />
<path d="M69.5,570.4 A7,2.3 0 0 0 83.5,570.4" fill="none" stroke="#666" stroke-width="0.55" />
<path d="M69.5,572 A7,2.3 0 0 0 83.5,572" fill="none" stroke="#666" stroke-width="0.55" />
<ellipse cx="76.5" cy="559.5" rx="7" ry="2.5" fill="#fff" stroke="#111" stroke-width="1.0" />
<ellipse cx="76.5" cy="559.6" rx="3.5" ry="1.3" fill="#444" stroke="#111" stroke-width="0.6" />
<path d="M521.3,339.3 L521.3,341.3 A10.5,4 0 0 0 542.3,341.3 L542.3,339.3 Z" fill="#fff" stroke="#111" stroke-width="1.0" />
<ellipse cx="531.8" cy="339.3" rx="10.5" ry="3.5" fill="#fff" stroke="#111" stroke-width="1.0" />
<path d="M530.3,342.8 L530.3,345.1 M533.3,342.8 L533.3,345.1 M523.8,342.3 L530.3,342.8 L533.3,342.8 L539.8,342.3" fill="none" stroke="#111" stroke-width="0.9" />
<path d="M524.8,325.8 L524.8,338.3 A7,2.5 0 0 0 538.8,338.3 L538.8,325.8 Z" fill="#fff" stroke="#111" stroke-width="1.0" />
<path d="M524.8,327.1 A7,2.3 0 0 0 538.8,327.1" fill="none" stroke="#666" stroke-width="0.55" />
<path d="M524.8,328.7 A7,2.3 0 0 0 538.8,328.7" fill="none" stroke="#666" stroke-width="0.55" />
<path d="M524.8,330.3 A7,2.3 0 0 0 538.8,330.3" fill="none" stroke="#666" stroke-width="0.55" />
<path d="M524.8,331.9 A7,2.3 0 0 0 538.8,331.9" fill="none" stroke="#666" stroke-width="0.55" />
<path d="M524.8,333.5 A7,2.3 0 0 0 538.8,333.5" fill="none" stroke="#666" stroke-width="0.55" />
<path d="M524.8,335.1 A7,2.3 0 0 0 538.8,335.1" fill="none" stroke="#666" stroke-width="0.55" />
<path d="M524.8,336.7 A7,2.3 0 0 0 538.8,336.7" fill="none" stroke="#666" stroke-width="0.55" />
<path d="M524.8,338.3 A7,2.3 0 0 0 538.8,338.3" fill="none" stroke="#666" stroke-width="0.55" />
<ellipse cx="531.8" cy="325.8" rx="7" ry="2.5" fill="#fff" stroke="#111" stroke-width="1.0" />
<ellipse cx="531.8" cy="325.9" rx="3.5" ry="1.3" fill="#444" stroke="#111" stroke-width="0.6" />
<path d="M324,34.4 L353.7,34.4 L360.1,40.2 L360.1,55 L353.7,60.8 L324,60.8 L317.7,55 L317.7,40.2 Z" fill="#fff" stroke="#111" stroke-width="1.1" />
<path d="M330.5,40.2 L360.1,40.2 M330.5,55 L360.1,55 M324,34.4 L330.5,40.2 L330.5,55 L324,60.8" fill="none" stroke="#111" stroke-width="1.0" />
<path d="M310.7,39.2 L327.5,39.6 L327.5,55.2 L310.7,55.3 Z" fill="#fff" stroke="#111" stroke-width="0" />
<path d="M313.2,39.6 A3.6,7.8 0 0 1 313.2,55.2" fill="none" stroke="#222" stroke-width="1.0" />
<path d="M315.5,39.6 A3.6,7.8 0 0 1 315.5,55.2" fill="none" stroke="#222" stroke-width="1.0" />
<path d="M317.8,39.6 A3.6,7.8 0 0 1 317.8,55.2" fill="none" stroke="#222" stroke-width="1.0" />
<path d="M320.1,39.6 A3.6,7.8 0 0 1 320.1,55.2" fill="none" stroke="#222" stroke-width="1.0" />
<path d="M322.4,39.6 A3.6,7.8 0 0 1 322.4,55.2" fill="none" stroke="#222" stroke-width="1.0" />
<path d="M324.7,39.6 A3.6,7.8 0 0 1 324.7,55.2" fill="none" stroke="#222" stroke-width="1.0" />
<path d="M327,39.6 A3.6,7.8 0 0 1 327,55.2" fill="none" stroke="#222" stroke-width="1.0" />
<line x1="311" y1="39.3" x2="328" y2="39.6" stroke="#111" stroke-width="0.9"/>
<line x1="311" y1="55.2" x2="328" y2="55.2" stroke="#111" stroke-width="0.9"/>
<ellipse cx="310.7" cy="47.2" rx="4.2" ry="8.1" fill="#fff" stroke="#111" stroke-width="1.2" />
<ellipse cx="310.9" cy="47.2" rx="2.5" ry="4.9" fill="#fff" stroke="#111" stroke-width="1.3" />
<ellipse cx="369.4" cy="48.2" rx="4.6" ry="7.9" fill="#fff" stroke="#111" stroke-width="1.0" />
<ellipse cx="369.6" cy="48.3" rx="2.3" ry="4.6" fill="#fff" stroke="#111" stroke-width="0.9" />
<path d="M383.3,39.6 L403.5,39.6 Q406,40 406,48.2 Q406,56.4 403.5,56.8 L383.3,56.8 Z" fill="#fff" stroke="#111" stroke-width="1.0" />
<ellipse cx="383.3" cy="48.2" rx="2.9" ry="8.6" fill="#fff" stroke="#111" stroke-width="1.1" />
<ellipse cx="383.8" cy="48.2" rx="1.9" ry="7.6" fill="none" stroke="#111" stroke-width="0.7" />
<ellipse cx="416.6" cy="48.1" rx="7" ry="7.5" fill="#dcdcdc" stroke="#111" stroke-width="1.0" />
<rect x="431.6" y="44.6" width="25.9" height="7.9" rx="3.5" fill="#383838" stroke="#111" stroke-width="0.8"/>
<line x1="433.5" y1="45.8" x2="434.3" y2="51.2" stroke="#aaa" stroke-width="0.55"/>
<line x1="435.1" y1="45.8" x2="435.9" y2="51.2" stroke="#aaa" stroke-width="0.55"/>
<line x1="436.7" y1="45.8" x2="437.5" y2="51.2" stroke="#aaa" stroke-width="0.55"/>
<line x1="438.3" y1="45.8" x2="439.1" y2="51.2" stroke="#aaa" stroke-width="0.55"/>
<line x1="439.9" y1="45.8" x2="440.7" y2="51.2" stroke="#aaa" stroke-width="0.55"/>
<line x1="441.5" y1="45.8" x2="442.3" y2="51.2" stroke="#aaa" stroke-width="0.55"/>
<line x1="443.1" y1="45.8" x2="443.9" y2="51.2" stroke="#aaa" stroke-width="0.55"/>
<line x1="444.7" y1="45.8" x2="445.5" y2="51.2" stroke="#aaa" stroke-width="0.55"/>
<line x1="446.3" y1="45.8" x2="447.1" y2="51.2" stroke="#aaa" stroke-width="0.55"/>
<line x1="447.9" y1="45.8" x2="448.7" y2="51.2" stroke="#aaa" stroke-width="0.55"/>
<line x1="449.5" y1="45.8" x2="450.3" y2="51.2" stroke="#aaa" stroke-width="0.55"/>
<line x1="451.1" y1="45.8" x2="451.9" y2="51.2" stroke="#aaa" stroke-width="0.55"/>
<line x1="452.7" y1="45.8" x2="453.5" y2="51.2" stroke="#aaa" stroke-width="0.55"/>
<line x1="454.3" y1="45.8" x2="455.1" y2="51.2" stroke="#aaa" stroke-width="0.55"/>
<line x1="455.9" y1="45.8" x2="456.7" y2="51.2" stroke="#aaa" stroke-width="0.55"/>
<ellipse cx="469.3" cy="49" rx="6" ry="9.9" fill="#fff" stroke="#111" stroke-width="1.0" />
<ellipse cx="469.5" cy="49.1" rx="2.9" ry="6" fill="#fff" stroke="#111" stroke-width="1.0" />
<path d="M364.1,116 L364.1,132 Q368.1,134.5 372.1,132 L372.1,116 Z" fill="#fff" stroke="#111" stroke-width="1.0" />
<path d="M364.3,119 Q368.1,120.3 371.9,119" fill="none" stroke="#444" stroke-width="0.9" />
<path d="M364.3,120.9 Q368.1,122.2 371.9,120.9" fill="none" stroke="#444" stroke-width="0.9" />
<path d="M364.3,122.8 Q368.1,124.1 371.9,122.8" fill="none" stroke="#444" stroke-width="0.9" />
<path d="M364.3,124.7 Q368.1,126 371.9,124.7" fill="none" stroke="#444" stroke-width="0.9" />
<path d="M364.3,126.6 Q368.1,127.9 371.9,126.6" fill="none" stroke="#444" stroke-width="0.9" />
<path d="M364.3,128.5 Q368.1,129.8 371.9,128.5" fill="none" stroke="#444" stroke-width="0.9" />
<path d="M364.3,130.4 Q368.1,131.7 371.9,130.4" fill="none" stroke="#444" stroke-width="0.9" />
<path d="M364.3,132.3 Q368.1,133.6 371.9,132.3" fill="none" stroke="#444" stroke-width="0.9" />
<path d="M361,108.3 Q360,110 360.3,111.5 Q361.5,115.5 363.3,116.7 Q368,115.5 372.3,116.7 Q375.6,114 375.5,110.5 Q374.5,106 368,105.9 Q364,106 362.6,108 Z" fill="#fff" stroke="#111" stroke-width="1.1" />
<path d="M363.2,108.6 L374.2,113.3 M362.8,110.4 L373.4,115.2" fill="none" stroke="#111" stroke-width="1.0" />
<path d="M360.3,111.3 Q367,115 375.4,111" fill="none" stroke="#888" stroke-width="0.5" />
<path d="M345.5,184 L345.5,190 A24,11.5 0 0 0 393.7,190 L393.7,184 Z" fill="#d8d8d8" stroke="#111" stroke-width="1.0" />
<path d="M343,155.2 L343,183.2 A26.6,12.6 0 0 0 396.2,183.2 L396.2,155.2 Z" fill="#9a9a9a" stroke="#111" stroke-width="1.0" />
<line x1="394.9" y1="162.59" x2="394.9" y2="186.09" stroke="#f0f0f0" stroke-width="1.1034441853748633"/>
<line x1="394.05" y1="162.59" x2="394.05" y2="186.09" stroke="#333" stroke-width="0.5"/>
<line x1="391.12" y1="166.11" x2="391.12" y2="189.61" stroke="#f0f0f0" stroke-width="1.8282416559604302"/>
<line x1="389.91" y1="166.11" x2="389.91" y2="189.61" stroke="#333" stroke-width="0.5"/>
<line x1="385.24" y1="168.89" x2="385.24" y2="192.39" stroke="#f0f0f0" stroke-width="2.4034441853748634"/>
<line x1="383.73" y1="168.89" x2="383.73" y2="192.39" stroke="#333" stroke-width="0.5"/>
<line x1="377.82" y1="170.68" x2="377.82" y2="194.18" stroke="#f0f0f0" stroke-width="2.772746942367399"/>
<line x1="376.13" y1="170.68" x2="376.13" y2="194.18" stroke="#333" stroke-width="0.5"/>
<line x1="369.6" y1="171.3" x2="369.6" y2="194.8" stroke="#f0f0f0" stroke-width="2.9"/>
<line x1="367.85" y1="171.3" x2="367.85" y2="194.8" stroke="#333" stroke-width="0.5"/>
<line x1="361.38" y1="170.68" x2="361.38" y2="194.18" stroke="#f0f0f0" stroke-width="2.7727469423673994"/>
<line x1="359.69" y1="170.68" x2="359.69" y2="194.18" stroke="#333" stroke-width="0.5"/>
<line x1="353.96" y1="168.89" x2="353.96" y2="192.39" stroke="#f0f0f0" stroke-width="2.4034441853748634"/>
<line x1="352.46" y1="168.89" x2="352.46" y2="192.39" stroke="#333" stroke-width="0.5"/>
<line x1="348.08" y1="166.11" x2="348.08" y2="189.61" stroke="#f0f0f0" stroke-width="1.8282416559604306"/>
<line x1="346.87" y1="166.11" x2="346.87" y2="189.61" stroke="#333" stroke-width="0.5"/>
<line x1="344.3" y1="162.59" x2="344.3" y2="186.09" stroke="#f0f0f0" stroke-width="1.1034441853748636"/>
<line x1="343.45" y1="162.59" x2="343.45" y2="186.09" stroke="#333" stroke-width="0.5"/>
<path d="M396.4,155.2 L396.11,155.69 L395.32,156.13 L394.31,156.48 L393.5,156.8 L394,157.32 L394.69,157.95 L395.13,158.6 L395.09,159.16 L394.49,159.54 L393.44,159.72 L392.19,159.75 L391.16,159.83 L391.31,160.52 L391.6,161.37 L391.66,162.16 L391.28,162.72 L390.43,162.96 L389.22,162.86 L387.87,162.58 L386.71,162.41 L386.49,163.19 L386.36,164.17 L386.02,165.04 L385.35,165.56 L384.34,165.62 L383.08,165.26 L381.76,164.69 L380.59,164.29 L380.02,165.08 L379.47,166.1 L378.78,166.95 L377.88,167.37 L376.8,167.26 L375.62,166.67 L374.45,165.87 L373.39,165.27 L372.52,166 L371.62,166.96 L370.64,167.72 L369.6,168 L368.56,167.72 L367.58,166.96 L366.68,166 L365.81,165.27 L364.75,165.87 L363.58,166.67 L362.4,167.26 L361.32,167.37 L360.42,166.95 L359.73,166.1 L359.18,165.08 L358.61,164.29 L357.44,164.69 L356.12,165.26 L354.86,165.62 L353.85,165.56 L353.18,165.04 L352.84,164.17 L352.71,163.19 L352.49,162.41 L351.33,162.58 L349.98,162.86 L348.77,162.96 L347.92,162.72 L347.54,162.16 L347.6,161.37 L347.89,160.52 L348.04,159.83 L347.01,159.75 L345.76,159.72 L344.71,159.54 L344.11,159.16 L344.07,158.6 L344.51,157.95 L345.2,157.32 L345.7,156.8 L344.89,156.48 L343.88,156.13 L343.09,155.69 L342.8,155.2 L343.09,154.71 L343.88,154.27 L344.89,153.92 L345.7,153.6 L345.2,153.08 L344.51,152.45 L344.07,151.8 L344.11,151.24 L344.71,150.86 L345.76,150.68 L347.01,150.65 L348.04,150.57 L347.89,149.88 L347.6,149.03 L347.54,148.24 L347.92,147.68 L348.77,147.44 L349.98,147.54 L351.33,147.82 L352.49,147.99 L352.71,147.21 L352.84,146.23 L353.18,145.36 L353.85,144.84 L354.86,144.78 L356.12,145.14 L357.44,145.71 L358.61,146.11 L359.18,145.32 L359.73,144.3 L360.42,143.45 L361.32,143.03 L362.4,143.14 L363.58,143.73 L364.75,144.53 L365.81,145.13 L366.68,144.4 L367.58,143.44 L368.56,142.68 L369.6,142.4 L370.64,142.68 L371.62,143.44 L372.52,144.4 L373.39,145.13 L374.45,144.53 L375.62,143.73 L376.8,143.14 L377.88,143.03 L378.78,143.45 L379.47,144.3 L380.02,145.32 L380.59,146.11 L381.76,145.71 L383.08,145.14 L384.34,144.78 L385.35,144.84 L386.02,145.36 L386.36,146.23 L386.49,147.21 L386.71,147.99 L387.87,147.82 L389.22,147.54 L390.43,147.44 L391.28,147.68 L391.66,148.24 L391.6,149.03 L391.31,149.88 L391.16,150.57 L392.19,150.65 L393.44,150.68 L394.49,150.86 L395.09,151.24 L395.13,151.8 L394.69,152.45 L394,153.08 L393.5,153.6 L394.31,153.92 L395.32,154.27 L396.11,154.71 L396.4,155.2 Z" fill="#fff" stroke="#111" stroke-width="1.0" />
<path d="M396.4,155.2 L396.11,155.8 L395.32,156.33 L394.31,156.76 L393.5,157.15 L394,157.79 L394.69,158.56 L395.13,159.35 L395.09,160.03 L394.49,160.49 L393.44,160.71 L392.19,160.76 L391.16,160.85 L391.31,161.68 L391.6,162.72 L391.66,163.69 L391.28,164.38 L390.43,164.66 L389.22,164.55 L387.87,164.21 L386.71,164 L386.49,164.94 L386.36,166.15 L386.02,167.2 L385.35,167.83 L384.34,167.91 L383.08,167.48 L381.76,166.78 L380.59,166.29 L380.02,167.25 L379.47,168.5 L378.78,169.54 L377.88,170.05 L376.8,169.91 L375.62,169.2 L374.45,168.22 L373.39,167.49 L372.52,168.38 L371.62,169.55 L370.64,170.47 L369.6,170.82 L368.56,170.47 L367.58,169.55 L366.68,168.38 L365.81,167.49 L364.75,168.22 L363.58,169.2 L362.4,169.91 L361.32,170.05 L360.42,169.54 L359.73,168.5 L359.18,167.25 L358.61,166.29 L357.44,166.78 L356.12,167.48 L354.86,167.91 L353.85,167.83 L353.18,167.2 L352.84,166.15 L352.71,164.94 L352.49,164 L351.33,164.21 L349.98,164.55 L348.77,164.66 L347.92,164.38 L347.54,163.69 L347.6,162.72 L347.89,161.68 L348.04,160.85 L347.01,160.76 L345.76,160.71 L344.71,160.49 L344.11,160.03 L344.07,159.35 L344.51,158.56 L345.2,157.79 L345.7,157.15 L344.89,156.76 L343.88,156.33 L343.09,155.8 L342.8,155.2 L396.4,155.2" fill="#fff" stroke="#111" stroke-width="1.0" />
<ellipse cx="369.6" cy="158.4" rx="20.6" ry="9.6" fill="#dcdcdc" stroke="#111" stroke-width="1.1" />
<ellipse cx="369.6" cy="157.9" rx="22" ry="10.5" fill="none" stroke="#555" stroke-width="0.6" />
<ellipse cx="370.4" cy="157.8" rx="7.2" ry="4.3" fill="#fff" stroke="#111" stroke-width="1.1" />
<ellipse cx="370.4" cy="158.9" rx="5.4" ry="2.8" fill="none" stroke="#111" stroke-width="0.9" />
<path d="M350.2,233 L350.2,241 L359.8,249 L378.5,249 L388.9,241 L388.9,231 Q372,244 350.2,233 Z" fill="#fff" stroke="#111" stroke-width="1.1" />
<path d="M359.8,241.5 L359.8,249 M378.5,241.5 L378.5,249" fill="none" stroke="#111" stroke-width="1.0" />
<path d="M350.2,233 Q355,239 359.8,241.5 Q369,243.5 378.5,241.5 Q384,238 388.9,231" fill="none" stroke="#111" stroke-width="1.0" />
<path d="M359.8,249.2 Q369,251.5 378.5,249.2" fill="none" stroke="#111" stroke-width="1.0" />
<path d="M351.6,216 L351.6,232 A17.4,8 0 0 0 386.4,232 L386.4,216 Z" fill="#fff" stroke="#111" stroke-width="1.1" />
<ellipse cx="369" cy="216" rx="17.4" ry="8.9" fill="#fff" stroke="#111" stroke-width="1.1" />
<path d="M351.8,218 A17.2,9.5 0 0 0 386.2,218" fill="none" stroke="#444" stroke-width="0.7" />
<ellipse cx="368.9" cy="217" rx="6.8" ry="4.6" fill="#fff" stroke="#111" stroke-width="1.1" />
<path d="M362.6,218.6 A6.3,3 0 0 1 375.2,218.6" fill="none" stroke="#111" stroke-width="0.9" />
<path d="M362.1,258 L362.1,284 L376,284 L376,258 Z" fill="#fff" stroke="#111" stroke-width="1.1" />
<ellipse cx="369" cy="258" rx="7" ry="2.8" fill="#fff" stroke="#111" stroke-width="1.1" />
<ellipse cx="369" cy="258.3" rx="4.6" ry="1.8" fill="#777" stroke="#111" stroke-width="0.7" />
<rect x="366.6" y="264" width="3.9" height="10" rx="0" fill="#fff" stroke="#111" stroke-width="0.9"/>
<path d="M360.3,284 L360.3,307 A8.6,2.5 0 0 0 377.5,307 L377.5,284 A8.6,2.5 0 0 0 360.3,284 Z" fill="#fff" stroke="#111" stroke-width="1.1" />
<path d="M360.3,287.5 A8.6,2.4 0 0 0 377.5,287.5" fill="none" stroke="#111" stroke-width="0.9" />
<path d="M360.3,290.5 A8.6,2.4 0 0 0 377.5,290.5" fill="none" stroke="#111" stroke-width="0.9" />
<path d="M360.3,294.8 A8.6,2.4 0 0 0 377.5,294.8" fill="none" stroke="#111" stroke-width="0.9" />
<path d="M360.3,297.8 A8.6,2.4 0 0 0 377.5,297.8" fill="none" stroke="#111" stroke-width="0.9" />
<path d="M360.3,285 A8.6,2.4 0 0 0 377.5,285" fill="none" stroke="#111" stroke-width="0.9" />
<rect x="364.8" y="308" width="8.5" height="6.5" rx="0" fill="#fff" stroke="#111" stroke-width="1.0"/>
<path d="M362.4,314 L362.4,327.5 L376,327.5 L376,314 Z" fill="#fff" stroke="#111" stroke-width="1.0" />
<path d="M362.6,315.5 A6.6,1.2 0 0 0 375.8,315.5" fill="none" stroke="#333" stroke-width="0.8" />
<path d="M362.6,317 A6.6,1.2 0 0 0 375.8,317" fill="none" stroke="#333" stroke-width="0.8" />
<path d="M362.6,318.5 A6.6,1.2 0 0 0 375.8,318.5" fill="none" stroke="#333" stroke-width="0.8" />
<path d="M362.6,320 A6.6,1.2 0 0 0 375.8,320" fill="none" stroke="#333" stroke-width="0.8" />
<path d="M362.6,321.5 A6.6,1.2 0 0 0 375.8,321.5" fill="none" stroke="#333" stroke-width="0.8" />
<path d="M362.6,323 A6.6,1.2 0 0 0 375.8,323" fill="none" stroke="#333" stroke-width="0.8" />
<path d="M362.6,324.5 A6.6,1.2 0 0 0 375.8,324.5" fill="none" stroke="#333" stroke-width="0.8" />
<path d="M362.6,326 A6.6,1.2 0 0 0 375.8,326" fill="none" stroke="#333" stroke-width="0.8" />
<path d="M363.5,327.5 L364.5,331 L369,339.5 L373.5,331 L375,327.5" fill="#fff" stroke="#111" stroke-width="1.0" />
<path d="M364.5,331 Q369,332.5 373.5,331" fill="none" stroke="#111" stroke-width="0.8" />
<ellipse cx="370.7" cy="351.4" rx="10.5" ry="5.9" fill="#fff" stroke="#111" stroke-width="1.0" />
<ellipse cx="370.7" cy="351.4" rx="8.3" ry="4.1" fill="#fff" stroke="#111" stroke-width="1.0" />
<ellipse cx="370.7" cy="368.4" rx="10.3" ry="5.9" fill="#fff" stroke="#111" stroke-width="1.0" />
<ellipse cx="370.7" cy="368.4" rx="8.1" ry="4.1" fill="#fff" stroke="#111" stroke-width="1.0" />
<path d="M362.4,452 L362.4,469 A10.2,2.8 0 0 0 382.8,469 L382.8,452 Z" fill="#fff" stroke="#111" stroke-width="1.0" />
<path d="M362.5,457.5 A10.1,2.3 0 0 0 382.7,457.5" fill="none" stroke="#222" stroke-width="0.9" />
<path d="M362.5,459.4 A10.1,2.3 0 0 0 382.7,459.4" fill="none" stroke="#222" stroke-width="0.9" />
<path d="M362.5,461.3 A10.1,2.3 0 0 0 382.7,461.3" fill="none" stroke="#222" stroke-width="0.9" />
<path d="M362.5,463.2 A10.1,2.3 0 0 0 382.7,463.2" fill="none" stroke="#222" stroke-width="0.9" />
<path d="M362.5,465.1 A10.1,2.3 0 0 0 382.7,465.1" fill="none" stroke="#222" stroke-width="0.9" />
<path d="M362.5,467 A10.1,2.3 0 0 0 382.7,467" fill="none" stroke="#222" stroke-width="0.9" />
<path d="M362.5,468.9 A10.1,2.3 0 0 0 382.7,468.9" fill="none" stroke="#222" stroke-width="0.9" />
<path d="M354.9,416 L354.9,448 A16.6,6 0 0 0 388.1,448 L388.1,416 Z" fill="#fff" stroke="#111" stroke-width="1.1" />
<path d="M336.46,439.88 L357.65,428.62 L365.53,443.45 L344.34,454.72 Z" fill="#fff" stroke="#111" stroke-width="0" />
<path d="M336.46,439.88 L357.65,428.62 M344.34,454.72 L365.53,443.45" fill="none" stroke="#111" stroke-width="1.1" />
<path d="M338.75,438.66 A4.6,8.4 -28 0 1 346.64,453.5" fill="none" stroke="#1a1a1a" stroke-width="1.1" />
<path d="M341,437.47 A4.6,8.4 -28 0 1 348.89,452.3" fill="none" stroke="#1a1a1a" stroke-width="1.1" />
<path d="M343.26,436.27 A4.6,8.4 -28 0 1 351.14,451.1" fill="none" stroke="#1a1a1a" stroke-width="1.1" />
<path d="M345.51,435.07 A4.6,8.4 -28 0 1 353.39,449.9" fill="none" stroke="#1a1a1a" stroke-width="1.1" />
<path d="M347.76,433.87 A4.6,8.4 -28 0 1 355.65,448.71" fill="none" stroke="#1a1a1a" stroke-width="1.1" />
<path d="M350.01,432.68 A4.6,8.4 -28 0 1 357.9,447.51" fill="none" stroke="#1a1a1a" stroke-width="1.1" />
<path d="M352.26,431.48 A4.6,8.4 -28 0 1 360.15,446.31" fill="none" stroke="#1a1a1a" stroke-width="1.1" />
<path d="M357.5,429 Q366.5,430 366.5,438 Q366.5,446 359.5,449" fill="#fff" stroke="#111" stroke-width="1.1" />
<ellipse cx="340.4" cy="447.3" rx="5.2" ry="8.4" fill="#fff" stroke="#111" stroke-width="1.2" transform="rotate(-28 340.4 447.3)"/>
<ellipse cx="340.6" cy="447.4" rx="3.2" ry="5.9" fill="#fff" stroke="#111" stroke-width="1.1" transform="rotate(-28 340.59999999999997 447.40000000000003)"/>
<path d="M345.7,400.7 L357.4,388.3 L385.6,388.3 L396.7,400.7 L396.7,407 L387.3,418.2 L357.4,418.2 L345.7,407 Z" fill="#fff" stroke="#111" stroke-width="1.1" />
<path d="M345.7,400.7 L357.4,411.5 L387.3,411.5 L396.7,400.7 M357.4,411.5 L357.4,418.2 M387.3,411.5 L387.3,418.2" fill="none" stroke="#111" stroke-width="1.0" />
<path d="M359.9,390.5 L359.9,403.5 A11.2,3 0 0 0 382.3,403.5 L382.3,390.5 Z" fill="#fff" stroke="#111" stroke-width="1.0" />
<path d="M360,394.5 A11.1,3.5 0 0 0 382.2,394.5" fill="none" stroke="#222" stroke-width="1.0" />
<path d="M360,396.6 A11.1,3.5 0 0 0 382.2,396.6" fill="none" stroke="#222" stroke-width="1.0" />
<path d="M360,398.7 A11.1,3.5 0 0 0 382.2,398.7" fill="none" stroke="#222" stroke-width="1.0" />
<path d="M360,400.8 A11.1,3.5 0 0 0 382.2,400.8" fill="none" stroke="#222" stroke-width="1.0" />
<path d="M360,402.9 A11.1,3.5 0 0 0 382.2,402.9" fill="none" stroke="#222" stroke-width="1.0" />
<ellipse cx="371.1" cy="388.8" rx="11.2" ry="6.8" fill="#fff" stroke="#111" stroke-width="1.1" />
<ellipse cx="370.8" cy="390.8" rx="7.6" ry="5" fill="#fff" stroke="#111" stroke-width="1.3" />
<path d="M363.5,391.5 A7.4,3.5 0 0 1 378.1,391.5" fill="none" stroke="#111" stroke-width="0.9" />
<path d="M178,560.6 L162,569 Q158.6,571 160,574.5 L166,584.5 Q168,587.3 171,585.6 L190,574.6 Z" fill="#e0e0e0" stroke="#111" stroke-width="1.1" />
<path d="M176.9,557.5 L188.9,574.1 L279,581.3 Q283.5,581.6 285.5,579 L291.4,573.4 L296.8,572.1 Z" fill="#e0e0e0" stroke="#111" stroke-width="1.1" />
<path d="M192,512.5 Q194,510.6 197,511 L284.5,522.3 Q288.2,523 289.5,526.5 L301.5,562 Q302.8,567.5 298.5,570.5 Q296,572.3 292,571.8 L179,557.8 Q173.5,557 171.5,553.5 Q169.8,550.5 171.5,547.5 Z" fill="#e0e0e0" stroke="#111" stroke-width="1.4" />
<path d="M197,514 Q198.5,512.8 200.5,513.2 L283.5,524.8 Q286.3,525.5 287.2,528.5 L298.5,562 Q299.5,566.5 296,568.4 Q294.5,569.3 292,569 L181.5,555.2 Q177,554.5 175.8,552 Q174.8,550 176,548 Z" fill="#e0e0e0" stroke="#111" stroke-width="1.0" />
<path d="M199.5,513.6 L202.2,534.9 L272.8,542.2 L276.2,524" fill="none" stroke="#111" stroke-width="1.0" />
<path d="M202.2,534.9 L190.2,555.5 M272.8,542.2 L285.8,527.5 M272.8,542.2 L281.5,566.8" fill="none" stroke="#111" stroke-width="1.0" />
<path d="M186.2,558.69 Q186.7,561.29 189.2,561.69 L211.5,564.87 Q213.5,564.57 213.5,562.07" fill="#e0e0e0" stroke="#111" stroke-width="1.0" />
<path d="M227.7,563.83 Q228.2,566.43 230.7,566.83 L252.9,570 Q254.9,569.7 254.9,567.2" fill="#e0e0e0" stroke="#111" stroke-width="1.0" />
<path d="M268.9,568.94 Q269.4,571.54 271.9,571.94 L282,573.61 Q284,573.31 284,570.81" fill="#e0e0e0" stroke="#111" stroke-width="1.0" />
<path d="M48,690.6 L66.1,690.6 A3.6,13.2 0 0 1 66.1,717 L48,717 Z" fill="#fff" stroke="#111" stroke-width="1.1" />
<path d="M50,691.5 L65.5,691.5 Q67.5,694 68,698 L50,698.5 Z" fill="#8a8a8a" stroke="#111" stroke-width="0" />
<path d="M50,709 L68,709.5 Q67.5,714 65.5,716.2 L50,716.2 Z" fill="#6a6a6a" stroke="#111" stroke-width="0" />
<line x1="51" y1="691" x2="51.6" y2="716.5" stroke="#444" stroke-width="0.5"/>
<line x1="52.6" y1="691" x2="53.2" y2="716.5" stroke="#444" stroke-width="0.5"/>
<line x1="54.2" y1="691" x2="54.8" y2="716.5" stroke="#444" stroke-width="0.5"/>
<line x1="55.8" y1="691" x2="56.4" y2="716.5" stroke="#444" stroke-width="0.5"/>
<line x1="57.4" y1="691" x2="58" y2="716.5" stroke="#444" stroke-width="0.5"/>
<line x1="59" y1="691" x2="59.6" y2="716.5" stroke="#444" stroke-width="0.5"/>
<line x1="60.6" y1="691" x2="61.2" y2="716.5" stroke="#444" stroke-width="0.5"/>
<line x1="62.2" y1="691" x2="62.8" y2="716.5" stroke="#444" stroke-width="0.5"/>
<line x1="63.8" y1="691" x2="64.4" y2="716.5" stroke="#444" stroke-width="0.5"/>
<line x1="65.4" y1="691" x2="66" y2="716.5" stroke="#444" stroke-width="0.5"/>
<ellipse cx="66.1" cy="703.8" rx="3.6" ry="13.2" fill="#fff" stroke="#111" stroke-width="1.1" />
<path d="M66.5,693.5 A2.6,10.3 0 0 1 66.5,714.1 A1.6,10.3 0 0 0 66.5,693.5 Z" fill="#222" stroke="#111" stroke-width="0.6" />
<path d="M25.4,695.6 L37,695.6 L37,712 L25.4,712 Z" fill="#fff" stroke="#111" stroke-width="1.0" />
<rect x="27" y="696.5" width="9.5" height="14.6" rx="0" fill="#b0b0b0" stroke="#111" stroke-width="0"/>
<rect x="27" y="706" width="9.5" height="5.5" rx="0" fill="#606060" stroke="#111" stroke-width="0"/>
<line x1="27.5" y1="696" x2="27.5" y2="711.6" stroke="#555" stroke-width="0.5"/>
<line x1="29" y1="696" x2="29" y2="711.6" stroke="#555" stroke-width="0.5"/>
<line x1="30.5" y1="696" x2="30.5" y2="711.6" stroke="#555" stroke-width="0.5"/>
<line x1="32" y1="696" x2="32" y2="711.6" stroke="#555" stroke-width="0.5"/>
<line x1="33.5" y1="696" x2="33.5" y2="711.6" stroke="#555" stroke-width="0.5"/>
<line x1="35" y1="696" x2="35" y2="711.6" stroke="#555" stroke-width="0.5"/>
<path d="M25.4,697.7 L19.5,700.5 Q17.4,703.4 19.5,706.5 L25.4,709.9 Z" fill="#fff" stroke="#111" stroke-width="1.0" />
<path d="M21,699.8 L21,707.2 M23,699 L23,708.5" fill="none" stroke="#666" stroke-width="0.5" />
<path d="M40,687 L46,687 Q49.8,688 49.8,704 Q49.8,720.5 46,721.3 L40,721.3 Q36.9,720 36.9,704 Q36.9,688 40,687 Z" fill="#c4c4c4" stroke="#111" stroke-width="1.3" />
<path d="M44,687.5 Q47.3,690 47.3,704 Q47.3,718 44,721 L46,721.3 Q49.8,720.5 49.8,704 Q49.8,688 46,687 Z" fill="#fff" stroke="#111" stroke-width="0" />
<path d="M38,706 L44,706 L44,719 L40,720.5 Q37.5,718 38,706 Z" fill="#777" stroke="#111" stroke-width="0" />
<path d="M44,687.5 Q47.3,690 47.3,704 Q47.3,718 44,721" fill="none" stroke="#111" stroke-width="1.0" />
<path d="M37.2,697 L40,697 M37.2,711 L40,711" fill="none" stroke="#111" stroke-width="0.8" />
<ellipse cx="85.3" cy="704.1" rx="11.3" ry="14.3" fill="#fff" stroke="#111" stroke-width="1.1" />
<ellipse cx="85.6" cy="704.1" rx="10" ry="13.1" fill="none" stroke="#555" stroke-width="0.6" />
<ellipse cx="86.2" cy="704.1" rx="7.9" ry="10.6" fill="#fff" stroke="#111" stroke-width="1.1" />
<ellipse cx="103.6" cy="703.2" rx="2.1" ry="7.8" fill="none" stroke="#111" stroke-width="1.7" transform="rotate(8 103.6 703.2)"/>
<ellipse cx="106.95" cy="703.2" rx="2.1" ry="7.8" fill="none" stroke="#111" stroke-width="1.7" transform="rotate(8 106.95 703.2)"/>
<ellipse cx="110.3" cy="703.2" rx="2.1" ry="7.8" fill="none" stroke="#111" stroke-width="1.7" transform="rotate(8 110.3 703.2)"/>
<ellipse cx="113.65" cy="703.2" rx="2.1" ry="7.8" fill="none" stroke="#111" stroke-width="1.7" transform="rotate(8 113.65 703.2)"/>
<ellipse cx="117" cy="703.2" rx="2.1" ry="7.8" fill="none" stroke="#111" stroke-width="1.7" transform="rotate(8 117 703.2)"/>
<ellipse cx="120.35" cy="703.2" rx="2.1" ry="7.8" fill="none" stroke="#111" stroke-width="1.7" transform="rotate(8 120.35 703.2)"/>
<ellipse cx="123.7" cy="703.2" rx="2.1" ry="7.8" fill="none" stroke="#111" stroke-width="1.7" transform="rotate(8 123.7 703.2)"/>
<ellipse cx="127.05" cy="703.2" rx="2.1" ry="7.8" fill="none" stroke="#111" stroke-width="1.7" transform="rotate(8 127.05 703.2)"/>
<ellipse cx="130.4" cy="703.2" rx="2.1" ry="7.8" fill="none" stroke="#111" stroke-width="1.7" transform="rotate(8 130.4 703.2)"/>
<path d="M103,695.8 L130,695.5 M103,710.8 L130,710.8" fill="none" stroke="#777" stroke-width="0.6" />
<path d="M136.5,696 L141,696 Q142.6,697.5 142.6,703.2 Q142.6,709 141,710.5 L136.5,710.5 Q134.7,709 134.7,703.2 Q134.7,697.5 136.5,696 Z" fill="#fff" stroke="#111" stroke-width="1.0" />
<ellipse cx="139.4" cy="703.2" rx="2.6" ry="4.5" fill="#fff" stroke="#111" stroke-width="0.8" />
<ellipse cx="139.8" cy="703.2" rx="1.4" ry="2.8" fill="#111" stroke="#111" stroke-width="0" />
<path d="M134.8,700 L137,699.8 M134.8,706.5 L137,706.6" fill="none" stroke="#111" stroke-width="0.7" />
<ellipse cx="146.9" cy="703.6" rx="2.4" ry="6.6" fill="#fff" stroke="#111" stroke-width="1.0" />
<ellipse cx="147.1" cy="703.6" rx="1.2" ry="3.4" fill="#fff" stroke="#111" stroke-width="0.8" />
<ellipse cx="147.1" cy="703.6" rx="0.5" ry="1.4" fill="#222" stroke="#111" stroke-width="0" />
<path d="M156,691.5 L163.5,690.6 Q169.3,692 169.3,702.8 Q169.3,714 163.5,715 L156,714.4 L156,709.5 L152.3,708.5 L152.3,704.8 L156,704.5 L156,701 L152.3,700.6 L152.3,697 L156,696.2 Z" fill="#fff" stroke="#111" stroke-width="1.1" />
<ellipse cx="164" cy="702.8" rx="4.9" ry="11.3" fill="#fff" stroke="#111" stroke-width="1.0" />
<ellipse cx="164.3" cy="702.8" rx="3.2" ry="8" fill="#e0e0e0" stroke="#111" stroke-width="0.7" />
<ellipse cx="164.5" cy="702.8" rx="1.6" ry="4.2" fill="#bbb" stroke="#111" stroke-width="0.6" />
<path d="M176.5,694 Q172.2,696 172.2,702.6 Q172.2,709.5 176.5,711.2 L179.5,711.2 Q183.6,709 183.6,702.6 Q183.6,696 179.5,694 Z" fill="#d0d0d0" stroke="#111" stroke-width="1.0" />
<ellipse cx="180.3" cy="702.6" rx="3.1" ry="8.2" fill="#e4e4e4" stroke="#111" stroke-width="0.7" />
<ellipse cx="180.8" cy="702.6" rx="1.6" ry="3.6" fill="#666" stroke="#111" stroke-width="0.6" />
<path d="M189.5,700.6 L194.7,700.6 L194.7,705.7 L189.5,705.7 Q187.8,703.2 189.5,700.6 Z" fill="#fff" stroke="#111" stroke-width="1.0" />
<rect x="194.7" y="699.6" width="6.3" height="6.7" rx="0" fill="#fff" stroke="#111" stroke-width="1.0"/>
<rect x="201" y="698.7" width="5.7" height="8.9" rx="0" fill="#fff" stroke="#111" stroke-width="1.0"/>
<path d="M211,696.8 L251,696.8 Q253.2,698 253.2,702.8 Q253.2,707.6 251,708.8 L211,708.8 Z" fill="#fff" stroke="#111" stroke-width="1.1" />
<ellipse cx="208.9" cy="703" rx="2.2" ry="6.7" fill="#fff" stroke="#111" stroke-width="1.1" />
<ellipse cx="221.9" cy="702.8" rx="1.1" ry="5.5" fill="#222" stroke="#111" stroke-width="0" />
<ellipse cx="226.9" cy="702.8" rx="1.1" ry="5.5" fill="#222" stroke="#111" stroke-width="0" />
<line x1="224.5" y1="697" x2="224.5" y2="708.6" stroke="#111" stroke-width="0.7"/>
<ellipse cx="235" cy="702.8" rx="1" ry="5.5" fill="#222" stroke="#111" stroke-width="0" />
<line x1="233" y1="697" x2="233" y2="708.6" stroke="#111" stroke-width="0.7"/>
<line x1="237" y1="697" x2="237" y2="708.6" stroke="#111" stroke-width="0.7"/>
<ellipse cx="250.8" cy="702.8" rx="1" ry="2.6" fill="#222" stroke="#111" stroke-width="0" />
<path d="M213,697 L213,708.6" fill="none" stroke="#666" stroke-width="0.6" />
<ellipse cx="259" cy="702.6" rx="4.6" ry="7.8" fill="#fff" stroke="#111" stroke-width="1.1" />
<ellipse cx="259" cy="702.6" rx="2.6" ry="5.3" fill="#fff" stroke="#111" stroke-width="1.1" />
<ellipse cx="271" cy="702.6" rx="4.6" ry="7.8" fill="#fff" stroke="#111" stroke-width="1.1" />
<ellipse cx="271" cy="702.6" rx="2.6" ry="5.3" fill="#fff" stroke="#111" stroke-width="1.1" />
<path d="M308.6,672 L324.5,672 L324.5,692 L308.6,692 Z" fill="#fff" stroke="#111" stroke-width="1.0" />
<rect x="309.2" y="672.5" width="14.8" height="13" rx="0" fill="#2a2a2a" stroke="#111" stroke-width="0"/>
<path d="M310.5,675 Q313.5,675.6 316.5,675" fill="none" stroke="#999" stroke-width="0.6" />
<path d="M310.5,677.6 Q313.5,678.2 316.5,677.6" fill="none" stroke="#999" stroke-width="0.6" />
<path d="M310.5,680.2 Q313.5,680.8 316.5,680.2" fill="none" stroke="#999" stroke-width="0.6" />
<path d="M310.5,682.8 Q313.5,683.4 316.5,682.8" fill="none" stroke="#999" stroke-width="0.6" />
<path d="M308.6,685.6 Q316.5,687.6 324.5,685.6" fill="none" stroke="#111" stroke-width="1.0" />
<path d="M309.9,672 L312,667.3 Q316.5,665.3 321,667.3 L323.2,672 Z" fill="#fff" stroke="#111" stroke-width="1.0" />
<path d="M319.5,666.8 L321,667.3 L323.2,672 L320.5,672 Z" fill="#222" stroke="#111" stroke-width="0" />
<path d="M310,672 Q316.5,673.8 323.2,672" fill="none" stroke="#111" stroke-width="0.9" />
<path d="M327.8,693.2 L347.1,693.2 A3,9.65 0 0 1 347.1,712.5 L327.8,712.5 Z" fill="#fff" stroke="#111" stroke-width="1.0" />
<path d="M330,694 L346,694 L346,699 L330,699.5 Z" fill="#777" stroke="#111" stroke-width="0" />
<path d="M330,706 L346,706 L346,711.8 L330,711.8 Z" fill="#333" stroke="#111" stroke-width="0" />
<line x1="331" y1="694" x2="331" y2="711.8" stroke="#999" stroke-width="0.5"/>
<line x1="333" y1="694" x2="333" y2="711.8" stroke="#999" stroke-width="0.5"/>
<line x1="335" y1="694" x2="335" y2="711.8" stroke="#999" stroke-width="0.5"/>
<line x1="337" y1="694" x2="337" y2="711.8" stroke="#999" stroke-width="0.5"/>
<line x1="339" y1="694" x2="339" y2="711.8" stroke="#999" stroke-width="0.5"/>
<line x1="341" y1="694" x2="341" y2="711.8" stroke="#999" stroke-width="0.5"/>
<line x1="343" y1="694" x2="343" y2="711.8" stroke="#999" stroke-width="0.5"/>
<line x1="345" y1="694" x2="345" y2="711.8" stroke="#999" stroke-width="0.5"/>
<ellipse cx="347.1" cy="702.85" rx="3" ry="9.65" fill="#fff" stroke="#111" stroke-width="1.1" />
<ellipse cx="347.5" cy="702.85" rx="1.4" ry="4.3" fill="#111" stroke="#111" stroke-width="0" />
<path d="M323,691.9 L326,691.9 Q328.3,693 328.3,703.2 Q328.3,713.5 326,714.5 L323,714.5 Z" fill="#fff" stroke="#111" stroke-width="1.0" />
<path d="M284.3,688.6 L318.5,688.6 Q321.5,690 321.5,703.2 Q321.5,716.5 318.5,717.8 L284.3,717.8 Z" fill="#fff" stroke="#111" stroke-width="1.1" />
<path d="M304.6,689 Q307.5,690.5 307.5,703.2 Q307.5,716 304.6,717.5" fill="none" stroke="#111" stroke-width="0.9" />
<path d="M311.9,690 Q314.5,691.5 314.5,703.2 Q314.5,715 311.9,716.5" fill="none" stroke="#111" stroke-width="0.9" />
<path d="M317,690.5 Q319,692 319,703.2 Q319,714.5 317,716" fill="none" stroke="#444" stroke-width="0.7" />
<path d="M308.6,688.6 Q312,692 317.2,696.5 Q320,692 324.5,688.6" fill="none" stroke="#111" stroke-width="1.0" />
<line x1="308.6" y1="688.6" x2="308.6" y2="672" stroke="#111" stroke-width="1.0"/>
<line x1="324.5" y1="688.6" x2="324.5" y2="672" stroke="#111" stroke-width="1.0"/>
<ellipse cx="284.3" cy="702.9" rx="4.3" ry="15.6" fill="#fff" stroke="#111" stroke-width="1.1" />
<ellipse cx="285.6" cy="702.9" rx="3.3" ry="14.8" fill="none" stroke="#111" stroke-width="0.8" />
<path d="M356,699.4 L362,699.4 L362,705.3 L356,705.3 Q354,702.3 356,699.4 Z" fill="#fff" stroke="#111" stroke-width="1.0" />
<path d="M362,696.8 L399.5,696.8 Q400.8,697.5 400.8,702.7 Q400.8,708 399.5,708.7 L362,708.7 Q360.8,702.7 362,696.8 Z" fill="#fff" stroke="#111" stroke-width="1.1" />
<rect x="380.9" y="700.2" width="18.9" height="5.5" rx="0" fill="#fff" stroke="#111" stroke-width="0.9"/>
<path d="M408,689.8 L425.7,689.8 A4,13.45 0 0 1 425.7,716.7 L408,716.7 Q404.8,714 404.8,703.2 Q404.8,692.5 408,689.8 Z" fill="#fff" stroke="#111" stroke-width="1.1" />
<path d="M408,689.8 L411.5,693 L411.5,713.5 L408,716.7 M404.8,698 L411.5,698 M404.8,708.5 L411.5,708.5" fill="none" stroke="#111" stroke-width="1.0" />
<ellipse cx="425.7" cy="703.25" rx="4" ry="13.45" fill="#fff" stroke="#111" stroke-width="1.1" />
<ellipse cx="426.2" cy="703.25" rx="2.6" ry="8.5" fill="#fff" stroke="#111" stroke-width="1.0" />
<path d="M425,696 A1.8,7.2 0 0 0 425,710.5 A2.8,7.2 0 0 1 425,696 Z" fill="#555" stroke="#111" stroke-width="0" />
<path d="M526,611.5 Q523.5,608.2 520.5,609.5 Q516.4,614 516.2,631.5 Q516.4,649 520.5,653.6 Q523.5,655 526,651.5 Z" fill="#c8c8c8" stroke="#111" stroke-width="1.1" />
<path d="M522.5,611 Q518.8,620 518.8,631.5 Q518.8,643 522.5,652" fill="none" stroke="#555" stroke-width="0.6" />
<path d="M521.5,612.8 L541,612.3 Q550.3,614 550.3,631.2 Q550.3,648.5 541,650 L521.5,649.7 Q519,640 519,631.3 Q519,622 521.5,612.8 Z" fill="#d0d0d0" stroke="#111" stroke-width="1.1" />
<ellipse cx="544.2" cy="631.3" rx="6" ry="17.8" fill="#d6d6d6" stroke="#666" stroke-width="0.7" />
<path d="M539.5,614 Q536.5,631 539.5,648.5" fill="none" stroke="#555" stroke-width="0.7" />
<path d="M522.5,624.6 L533.8,624.6 M522.5,638.3 L533.8,638.3" fill="none" stroke="#444" stroke-width="1.8" />
<path d="M523,624.6 L533,624.6 M523,638.3 L533,638.3" fill="none" stroke="#aaa" stroke-width="0.6" stroke-dasharray="1,1"/>
<path d="M533.8,624.6 Q536,619 540,614.5 M533.8,638.3 Q536,644 540,648.5 M533.8,624.6 L533.8,638.3" fill="none" stroke="#444" stroke-width="0.8" />
<path d="M521.5,612.8 Q519.6,631 521.5,649.7" fill="none" stroke="#111" stroke-width="0.8" />
<path d="M461.7,681.4 L474.2,682.8 A8.4,19 0 0 1 474.2,720.8 L461.7,723 A6.4,20.8 0 0 1 461.7,681.4 Z" fill="#e2e2e2" stroke="#111" stroke-width="1.1" />
<ellipse cx="474.4" cy="701.8" rx="8.4" ry="19" fill="#eeeeee" stroke="#111" stroke-width="1.1" />
<ellipse cx="473.6" cy="702" rx="5.5" ry="15.8" fill="#fff" stroke="#111" stroke-width="0.9" />
<ellipse cx="473" cy="702" rx="3.2" ry="13.2" fill="#f4f4f4" stroke="#111" stroke-width="0.7" />
<path d="M522.7,684.2 Q527,683.4 529.7,686.8 Q534.5,692.5 536.8,702 L537.6,707 Q537.6,713.6 534.2,714.2 Q531,716.2 527.2,718.6 Q524.8,719.9 522.7,719.4 A5.5,17.6 0 0 1 522.7,684.2 Z" fill="#e0e0e0" stroke="#111" stroke-width="1.1" />
<ellipse cx="522.7" cy="701.8" rx="5.5" ry="17.6" fill="none" stroke="#111" stroke-width="1.0" />
<ellipse cx="524.7" cy="702" rx="3.9" ry="14.6" fill="#e4e4e4" stroke="#111" stroke-width="0.9" />
<path d="M526.3,688.3 Q531.2,690.5 534.8,699 Q533.5,701.8 531,701.2 Q527,699.5 525.6,694 Q525.4,690.5 526.3,688.3 Z" fill="#fff" stroke="#111" stroke-width="0.9" />
<path d="M531,702.4 L535.2,702.4 L535.2,713.2 L531,713.2 Z" fill="#eee" stroke="#111" stroke-width="0" />
<path d="M531,702.4 L535.2,702.4 M531,713.2 L535.2,713.2" fill="none" stroke="#111" stroke-width="0.9" />
<ellipse cx="535.2" cy="707.8" rx="2.4" ry="5.4" fill="#eee" stroke="#111" stroke-width="1.0" />
<path d="M225.9,288 L225.9,297 Q226.5,302.7 232.5,302.9 Q238.5,302.7 239.1,297 L239.1,288 Z" fill="#fff" stroke="#111" stroke-width="1.0" />
<path d="M226.5,289 L238.5,289 L238.5,297.5 Q232.5,299.5 226.5,297.5 Z" fill="#9a9a9a" stroke="#111" stroke-width="0" />
<path d="M226.3,290 A6.2,1.2 0 0 0 238.7,290" fill="none" stroke="#666" stroke-width="0.5" />
<path d="M226.3,291.3 A6.2,1.2 0 0 0 238.7,291.3" fill="none" stroke="#666" stroke-width="0.5" />
<path d="M226.3,292.6 A6.2,1.2 0 0 0 238.7,292.6" fill="none" stroke="#666" stroke-width="0.5" />
<path d="M226.3,293.9 A6.2,1.2 0 0 0 238.7,293.9" fill="none" stroke="#666" stroke-width="0.5" />
<path d="M226.3,295.2 A6.2,1.2 0 0 0 238.7,295.2" fill="none" stroke="#666" stroke-width="0.5" />
<path d="M226.3,296.5 A6.2,1.2 0 0 0 238.7,296.5" fill="none" stroke="#666" stroke-width="0.5" />
<path d="M226.3,297.8 A6.2,1.2 0 0 0 238.7,297.8" fill="none" stroke="#666" stroke-width="0.5" />
<path d="M225.9,297.3 A6.6,1.6 0 0 0 239.1,297.3" fill="none" stroke="#111" stroke-width="0.8" />
<path d="M219.2,275.6 L224,270.3 L241,270 L245.5,275.2 L245.5,283 L239.1,288.8 L225.6,288.8 L219.2,283.1 Z" fill="#fff" stroke="#111" stroke-width="1.1" />
<path d="M219.2,275.6 L225.6,282.4 L239.1,282.4 L245.5,275.2 M225.6,282.4 L225.6,288.8 M239.1,282.4 L239.1,288.8" fill="none" stroke="#111" stroke-width="1.0" />
<path d="M224.4,265 L224.4,278 A8.1,2.8 0 0 0 240.6,278 L240.6,265 Z" fill="#fff" stroke="#111" stroke-width="1.0" />
<path d="M224.4,266.8 A8.1,2.6 0 0 0 240.6,266.8" fill="none" stroke="#222" stroke-width="0.9" />
<path d="M224.4,269.15 A8.1,2.6 0 0 0 240.6,269.15" fill="none" stroke="#222" stroke-width="0.9" />
<path d="M224.4,271.5 A8.1,2.6 0 0 0 240.6,271.5" fill="none" stroke="#222" stroke-width="0.9" />
<path d="M224.4,273.85 A8.1,2.6 0 0 0 240.6,273.85" fill="none" stroke="#222" stroke-width="0.9" />
<path d="M224.4,276.2 A8.1,2.6 0 0 0 240.6,276.2" fill="none" stroke="#222" stroke-width="0.9" />
<path d="M224.4,278.55 A8.1,2.6 0 0 0 240.6,278.55" fill="none" stroke="#222" stroke-width="0.9" />
<ellipse cx="232.5" cy="264.8" rx="8.1" ry="2.6" fill="#fff" stroke="#111" stroke-width="1.0" />
<path d="M226.3,257 L226.3,264 A6.2,2 0 0 0 238.7,264 L238.7,257" fill="#fff" stroke="#111" stroke-width="1.0" />
<ellipse cx="228.9" cy="256.6" rx="2.6" ry="2.2" fill="#fff" stroke="#111" stroke-width="1.0" />
<ellipse cx="236.1" cy="256.6" rx="2.6" ry="2.2" fill="#fff" stroke="#111" stroke-width="1.0" />
<path d="M230.5,257 L230.5,261 Q232.5,263 234.5,261 L234.5,257" fill="#fff" stroke="#111" stroke-width="1.0" />
<g fill="none" stroke="#5e5e5e" stroke-width="1.05">
<polyline points="4,19.5 59,19.5"/>
<polyline points="4,144.5 69,144.5"/>
<polyline points="4,219.5 72,219.5"/>
<polyline points="4,357.5 66,357.5"/>
<polyline points="4,387.5 66,387.5"/>
<polyline points="4,426.5 67,426.5"/>
<polyline points="4,461.5 62,461.5"/>
<polyline points="4,568.5 66,568.5"/>
<polyline points="165,19.5 215,19.5"/>
<polyline points="163,144.5 225,144.5"/>
<polyline points="163,219.5 229,219.5"/>
<polyline points="87,31 120.5,65 120.5,313 134.5,326.5 120.5,340 120.5,551.5 78,594"/>
<polyline points="134.5,326.5 204.5,326.5"/>
<polyline points="369.5,40 369.5,21.5 410.5,21.5"/>
<polyline points="396,171.5 443.5,171.5"/>
<polyline points="381,351.5 443.5,351.5"/>
<polyline points="542,115.5 599,115.5"/>
<polyline points="542,144.5 599,144.5"/>
<polyline points="540,183.5 599,183.5"/>
<polyline points="546,223.5 599,223.5"/>
<polyline points="283,524.5 336,524.5"/>
<polyline points="551,628.5 599,628.5"/>
<polyline points="16,687.5 53.5,650.5 201.5,650.5"/>
<polyline points="247.5,650.5 397.5,650.5 437.5,690"/>
<polyline points="40,676.5 85.5,676.5 85.5,689.5"/>
<polyline points="130,677.5 179.5,677.5 179.5,694"/>
<polyline points="198,677.5 244.5,677.5 244.5,695"/>
<polyline points="259.5,694.5 259.5,676.5 299.5,676.5"/>
<polyline points="471.5,682.5 471.5,675.5 510.5,675.5"/>
<polyline points="537,702.5 599,702.5"/>
<polyline points="133,711 145,721.5 183.5,721.5"/>
<polyline points="226.5,721.5 265,721.5 278,711"/>
<polyline points="398.5,351.5 380.5,369.5" stroke-dasharray="2,2"/>
<polyline points="260.5,687 270.5,695" stroke-dasharray="2,2"/>
</g>
<text x="4.5" y="17.3">522127</text>
<text x="3.5" y="141.6">700311</text>
<text x="5.0" y="217.0">517206</text>
<text x="4.0" y="355.3">518537</text>
<text x="4.0" y="385.0">518538</text>
<text x="5.0" y="423.8">517849</text>
<text x="2.7" y="459.8">524552</text>
<text x="3.9" y="566.2">574684</text>
<text x="165.0" y="17.5">522127</text>
<text x="163.2" y="141.5">700311</text>
<text x="163.2" y="217.5">517206</text>
<text x="163.4" y="325.0">578438</text>
<text x="370.4" y="19.9">524767</text>
<text x="403.7" y="170.0">516779</text>
<text x="403.1" y="349.3">520804</text>
<text x="559.7" y="113.7">518537</text>
<text x="558.5" y="141.7">518538</text>
<text x="559.3" y="179.8">517849</text>
<text x="558.5" y="220.8">524552</text>
<text x="295.2" y="520.7">550106</text>
<text x="560.2" y="625.6">576787</text>
<text x="205.6" y="654.7">574660</text>
<text x="40.7" y="675.3">524552</text>
<text x="129.9" y="674.8">529322</text>
<text x="198.3" y="674.4">576655</text>
<text x="260.4" y="675.1">530708</text>
<text x="470.7" y="674.1">580995</text>
<text x="558.0" y="699.3">582312</text>
<text x="185.5" y="726.5">576554</text>
</svg></body></html>
